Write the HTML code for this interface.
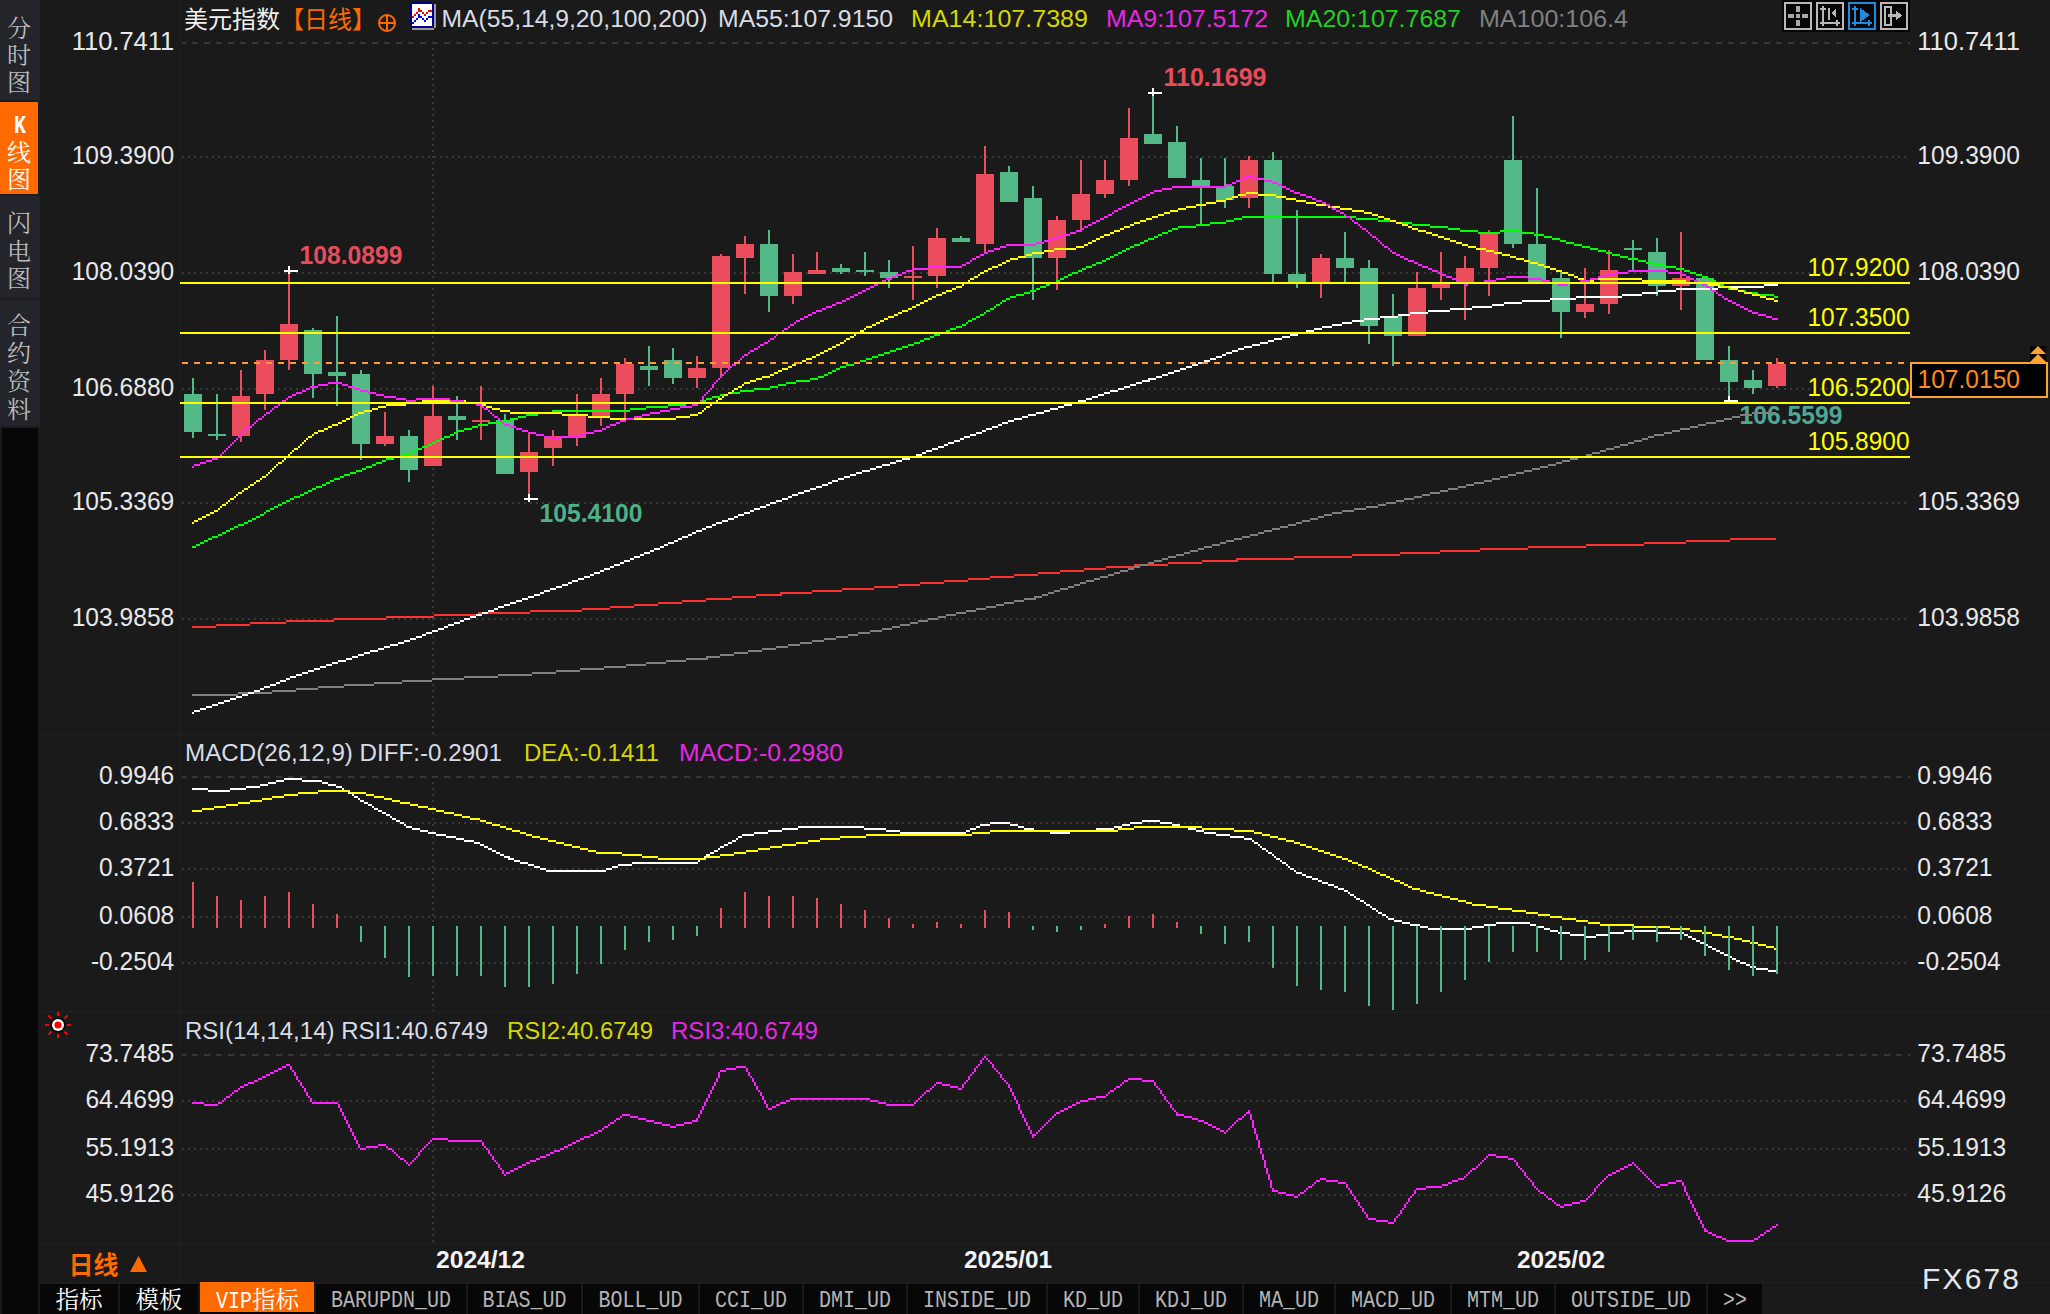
<!DOCTYPE html>
<html lang="zh"><head><meta charset="utf-8"><title>美元指数 日线</title>
<style>
html,body{margin:0;padding:0;background:#1a1a1a;overflow:hidden}
svg{display:block}
.ls{font-family:"Liberation Sans","Noto Sans CJK SC",sans-serif}
.cj{font-family:"Liberation Sans","Noto Sans CJK SC",sans-serif}
.cs{font-family:"Liberation Mono","Noto Serif CJK SC","Noto Sans CJK SC",serif}
.se{font-family:"Liberation Serif","Noto Serif CJK SC",serif}
.mo{font-family:"Liberation Mono","Noto Sans CJK SC",monospace}
</style></head><body>
<svg width="2050" height="1314" viewBox="0 0 2050 1314">
<rect x="0" y="0" width="2050" height="1314" fill="#1a1a1a"/>
<rect x="0" y="0" width="40" height="428" fill="#23252b"/>
<rect x="0" y="102" width="38" height="92" fill="#ff6a00"/>
<rect x="0" y="100" width="40" height="2" fill="#131c27"/>
<rect x="38" y="102" width="2" height="92" fill="#131c27"/>
<rect x="0" y="194" width="40" height="2" fill="#1a1d24"/>
<rect x="0" y="298" width="40" height="2" fill="#1a1d24"/>
<rect x="0" y="426" width="40" height="2" fill="#1a1d24"/>
<rect x="2" y="428" width="36" height="886" fill="#070707"/>
<rect x="38" y="734" width="2012" height="2" fill="#1e1e1e"/>
<rect x="38" y="1011" width="2012" height="2" fill="#1e1e1e"/>
<rect x="38" y="1243" width="2012" height="2" fill="#1e1e1e"/>
<rect x="179" y="0" width="2" height="1283" fill="#1d1d1d"/>
<rect x="38" y="1282" width="2012" height="2" fill="#1e1e1e"/>
<line x1="182" y1="43" x2="1910" y2="43" stroke="#363636" stroke-width="2" stroke-dasharray="6 6" stroke-dashoffset="2"/>
<line x1="182" y1="157" x2="1908" y2="157" stroke="#383838" stroke-width="2" stroke-dasharray="2 4"/>
<line x1="182" y1="273" x2="1908" y2="273" stroke="#383838" stroke-width="2" stroke-dasharray="2 4"/>
<line x1="182" y1="389" x2="1908" y2="389" stroke="#383838" stroke-width="2" stroke-dasharray="2 4"/>
<line x1="182" y1="503" x2="1908" y2="503" stroke="#383838" stroke-width="2" stroke-dasharray="2 4"/>
<line x1="182" y1="619" x2="1908" y2="619" stroke="#383838" stroke-width="2" stroke-dasharray="2 4"/>
<line x1="182" y1="777" x2="1910" y2="777" stroke="#363636" stroke-width="2" stroke-dasharray="6 6" stroke-dashoffset="2"/>
<line x1="182" y1="823" x2="1908" y2="823" stroke="#383838" stroke-width="2" stroke-dasharray="2 4"/>
<line x1="182" y1="869" x2="1908" y2="869" stroke="#383838" stroke-width="2" stroke-dasharray="2 4"/>
<line x1="182" y1="917" x2="1908" y2="917" stroke="#383838" stroke-width="2" stroke-dasharray="2 4"/>
<line x1="182" y1="963" x2="1908" y2="963" stroke="#383838" stroke-width="2" stroke-dasharray="2 4"/>
<line x1="182" y1="1055" x2="1910" y2="1055" stroke="#363636" stroke-width="2" stroke-dasharray="6 6" stroke-dashoffset="2"/>
<line x1="182" y1="1101" x2="1908" y2="1101" stroke="#383838" stroke-width="2" stroke-dasharray="2 4"/>
<line x1="182" y1="1149" x2="1908" y2="1149" stroke="#383838" stroke-width="2" stroke-dasharray="2 4"/>
<line x1="182" y1="1195" x2="1908" y2="1195" stroke="#383838" stroke-width="2" stroke-dasharray="2 4"/>
<line x1="433" y1="48" x2="433" y2="734" stroke="#383838" stroke-width="2" stroke-dasharray="2 4"/>
<line x1="433" y1="782" x2="433" y2="1011" stroke="#383838" stroke-width="2" stroke-dasharray="2 4"/>
<line x1="433" y1="1060" x2="433" y2="1243" stroke="#383838" stroke-width="2" stroke-dasharray="2 4"/>
<g shape-rendering="crispEdges">
<rect x="192" y="378" width="2" height="60" fill="#53b987"/>
<rect x="184" y="394" width="18" height="38" fill="#53b987"/>
<rect x="216" y="394" width="2" height="46" fill="#53b987"/>
<rect x="208" y="434" width="18" height="2" fill="#53b987"/>
<rect x="240" y="370" width="2" height="72" fill="#eb4d5c"/>
<rect x="232" y="396" width="18" height="40" fill="#eb4d5c"/>
<rect x="264" y="350" width="2" height="60" fill="#eb4d5c"/>
<rect x="256" y="360" width="18" height="34" fill="#eb4d5c"/>
<rect x="288" y="270" width="2" height="100" fill="#eb4d5c"/>
<rect x="280" y="324" width="18" height="36" fill="#eb4d5c"/>
<rect x="312" y="328" width="2" height="70" fill="#53b987"/>
<rect x="304" y="330" width="18" height="44" fill="#53b987"/>
<rect x="336" y="316" width="2" height="90" fill="#53b987"/>
<rect x="328" y="372" width="18" height="4" fill="#53b987"/>
<rect x="360" y="370" width="2" height="90" fill="#53b987"/>
<rect x="352" y="374" width="18" height="70" fill="#53b987"/>
<rect x="384" y="412" width="2" height="34" fill="#eb4d5c"/>
<rect x="376" y="436" width="18" height="8" fill="#eb4d5c"/>
<rect x="408" y="430" width="2" height="52" fill="#53b987"/>
<rect x="400" y="436" width="18" height="34" fill="#53b987"/>
<rect x="432" y="386" width="2" height="80" fill="#eb4d5c"/>
<rect x="424" y="416" width="18" height="50" fill="#eb4d5c"/>
<rect x="456" y="396" width="2" height="44" fill="#53b987"/>
<rect x="448" y="416" width="18" height="4" fill="#53b987"/>
<rect x="480" y="386" width="2" height="54" fill="#eb4d5c"/>
<rect x="472" y="420" width="18" height="2" fill="#eb4d5c"/>
<rect x="504" y="414" width="2" height="60" fill="#53b987"/>
<rect x="496" y="420" width="18" height="54" fill="#53b987"/>
<rect x="528" y="432" width="2" height="66" fill="#eb4d5c"/>
<rect x="520" y="452" width="18" height="20" fill="#eb4d5c"/>
<rect x="552" y="430" width="2" height="36" fill="#eb4d5c"/>
<rect x="544" y="436" width="18" height="12" fill="#eb4d5c"/>
<rect x="576" y="394" width="2" height="52" fill="#eb4d5c"/>
<rect x="568" y="414" width="18" height="24" fill="#eb4d5c"/>
<rect x="600" y="378" width="2" height="48" fill="#eb4d5c"/>
<rect x="592" y="394" width="18" height="24" fill="#eb4d5c"/>
<rect x="624" y="358" width="2" height="60" fill="#eb4d5c"/>
<rect x="616" y="364" width="18" height="30" fill="#eb4d5c"/>
<rect x="648" y="346" width="2" height="40" fill="#53b987"/>
<rect x="640" y="366" width="18" height="4" fill="#53b987"/>
<rect x="672" y="348" width="2" height="36" fill="#53b987"/>
<rect x="664" y="360" width="18" height="18" fill="#53b987"/>
<rect x="696" y="356" width="2" height="32" fill="#eb4d5c"/>
<rect x="688" y="368" width="18" height="10" fill="#eb4d5c"/>
<rect x="720" y="254" width="2" height="124" fill="#eb4d5c"/>
<rect x="712" y="256" width="18" height="112" fill="#eb4d5c"/>
<rect x="744" y="236" width="2" height="58" fill="#eb4d5c"/>
<rect x="736" y="244" width="18" height="14" fill="#eb4d5c"/>
<rect x="768" y="230" width="2" height="82" fill="#53b987"/>
<rect x="760" y="244" width="18" height="52" fill="#53b987"/>
<rect x="792" y="254" width="2" height="50" fill="#eb4d5c"/>
<rect x="784" y="272" width="18" height="24" fill="#eb4d5c"/>
<rect x="816" y="252" width="2" height="22" fill="#eb4d5c"/>
<rect x="808" y="270" width="18" height="4" fill="#eb4d5c"/>
<rect x="840" y="264" width="2" height="10" fill="#53b987"/>
<rect x="832" y="268" width="18" height="4" fill="#53b987"/>
<rect x="864" y="252" width="2" height="24" fill="#53b987"/>
<rect x="856" y="270" width="18" height="2" fill="#53b987"/>
<rect x="888" y="260" width="2" height="28" fill="#53b987"/>
<rect x="880" y="272" width="18" height="6" fill="#53b987"/>
<rect x="912" y="246" width="2" height="54" fill="#eb4d5c"/>
<rect x="904" y="276" width="18" height="2" fill="#eb4d5c"/>
<rect x="936" y="228" width="2" height="60" fill="#eb4d5c"/>
<rect x="928" y="238" width="18" height="38" fill="#eb4d5c"/>
<rect x="960" y="236" width="2" height="6" fill="#53b987"/>
<rect x="952" y="238" width="18" height="4" fill="#53b987"/>
<rect x="984" y="146" width="2" height="106" fill="#eb4d5c"/>
<rect x="976" y="174" width="18" height="70" fill="#eb4d5c"/>
<rect x="1008" y="166" width="2" height="36" fill="#53b987"/>
<rect x="1000" y="172" width="18" height="30" fill="#53b987"/>
<rect x="1032" y="186" width="2" height="114" fill="#53b987"/>
<rect x="1024" y="198" width="18" height="60" fill="#53b987"/>
<rect x="1056" y="216" width="2" height="74" fill="#eb4d5c"/>
<rect x="1048" y="220" width="18" height="38" fill="#eb4d5c"/>
<rect x="1080" y="160" width="2" height="70" fill="#eb4d5c"/>
<rect x="1072" y="194" width="18" height="26" fill="#eb4d5c"/>
<rect x="1104" y="160" width="2" height="38" fill="#eb4d5c"/>
<rect x="1096" y="180" width="18" height="14" fill="#eb4d5c"/>
<rect x="1128" y="108" width="2" height="78" fill="#eb4d5c"/>
<rect x="1120" y="138" width="18" height="42" fill="#eb4d5c"/>
<rect x="1152" y="92" width="2" height="52" fill="#53b987"/>
<rect x="1144" y="134" width="18" height="10" fill="#53b987"/>
<rect x="1176" y="126" width="2" height="52" fill="#53b987"/>
<rect x="1168" y="142" width="18" height="36" fill="#53b987"/>
<rect x="1200" y="158" width="2" height="66" fill="#53b987"/>
<rect x="1192" y="180" width="18" height="6" fill="#53b987"/>
<rect x="1224" y="158" width="2" height="50" fill="#53b987"/>
<rect x="1216" y="186" width="18" height="14" fill="#53b987"/>
<rect x="1248" y="156" width="2" height="52" fill="#eb4d5c"/>
<rect x="1240" y="160" width="18" height="38" fill="#eb4d5c"/>
<rect x="1272" y="152" width="2" height="130" fill="#53b987"/>
<rect x="1264" y="160" width="18" height="114" fill="#53b987"/>
<rect x="1296" y="210" width="2" height="78" fill="#53b987"/>
<rect x="1288" y="274" width="18" height="8" fill="#53b987"/>
<rect x="1320" y="254" width="2" height="44" fill="#eb4d5c"/>
<rect x="1312" y="258" width="18" height="24" fill="#eb4d5c"/>
<rect x="1344" y="232" width="2" height="50" fill="#53b987"/>
<rect x="1336" y="258" width="18" height="10" fill="#53b987"/>
<rect x="1368" y="260" width="2" height="84" fill="#53b987"/>
<rect x="1360" y="268" width="18" height="58" fill="#53b987"/>
<rect x="1392" y="294" width="2" height="72" fill="#53b987"/>
<rect x="1384" y="316" width="18" height="20" fill="#53b987"/>
<rect x="1416" y="272" width="2" height="64" fill="#eb4d5c"/>
<rect x="1408" y="288" width="18" height="48" fill="#eb4d5c"/>
<rect x="1440" y="252" width="2" height="48" fill="#eb4d5c"/>
<rect x="1432" y="284" width="18" height="4" fill="#eb4d5c"/>
<rect x="1464" y="256" width="2" height="64" fill="#eb4d5c"/>
<rect x="1456" y="268" width="18" height="16" fill="#eb4d5c"/>
<rect x="1488" y="230" width="2" height="66" fill="#eb4d5c"/>
<rect x="1480" y="234" width="18" height="34" fill="#eb4d5c"/>
<rect x="1512" y="116" width="2" height="132" fill="#53b987"/>
<rect x="1504" y="160" width="18" height="84" fill="#53b987"/>
<rect x="1536" y="188" width="2" height="94" fill="#53b987"/>
<rect x="1528" y="244" width="18" height="38" fill="#53b987"/>
<rect x="1560" y="272" width="2" height="66" fill="#53b987"/>
<rect x="1552" y="278" width="18" height="34" fill="#53b987"/>
<rect x="1584" y="268" width="2" height="50" fill="#eb4d5c"/>
<rect x="1576" y="304" width="18" height="8" fill="#eb4d5c"/>
<rect x="1608" y="250" width="2" height="64" fill="#eb4d5c"/>
<rect x="1600" y="270" width="18" height="34" fill="#eb4d5c"/>
<rect x="1632" y="240" width="2" height="30" fill="#53b987"/>
<rect x="1624" y="248" width="18" height="2" fill="#53b987"/>
<rect x="1656" y="238" width="2" height="58" fill="#53b987"/>
<rect x="1648" y="252" width="18" height="34" fill="#53b987"/>
<rect x="1680" y="232" width="2" height="78" fill="#eb4d5c"/>
<rect x="1672" y="278" width="18" height="8" fill="#eb4d5c"/>
<rect x="1704" y="276" width="2" height="84" fill="#53b987"/>
<rect x="1696" y="278" width="18" height="82" fill="#53b987"/>
<rect x="1728" y="346" width="2" height="54" fill="#53b987"/>
<rect x="1720" y="360" width="18" height="22" fill="#53b987"/>
<rect x="1752" y="370" width="2" height="24" fill="#53b987"/>
<rect x="1744" y="380" width="18" height="8" fill="#53b987"/>
<rect x="1776" y="358" width="2" height="30" fill="#eb4d5c"/>
<rect x="1768" y="364" width="18" height="22" fill="#eb4d5c"/>
</g>
<text class="ls" x="1739.5" y="424" font-size="25" fill="#4fa694" font-weight="bold" textLength="103" lengthAdjust="spacingAndGlyphs">106.5599</text>
<g shape-rendering="crispEdges">
<path d="M1730 538h46v2h-46zM1686 540h44v2h-44zM1644 542h42v2h-42zM1586 544h58v2h-58zM1528 546h58v2h-58zM1480 548h48v2h-48zM1440 550h40v2h-40zM1400 552h40v2h-40zM1352 554h48v2h-48zM1294 556h58v2h-58zM1236 558h58v2h-58zM1202 560h36v2h-36zM1168 562h34v2h-34zM1134 564h34v2h-34zM1106 566h28v2h-28zM1084 568h22v2h-22zM1060 570h24v2h-24zM1038 572h22v2h-22zM1014 574h24v2h-24zM990 576h24v2h-24zM968 578h22v2h-22zM944 580h24v2h-24zM920 582h24v2h-24zM898 584h22v2h-22zM874 586h24v2h-24zM842 588h32v2h-32zM812 590h30v2h-30zM780 592h32v2h-32zM756 594h26v2h-26zM732 596h24v2h-24zM706 598h26v2h-26zM682 600h24v2h-24zM658 602h24v2h-24zM634 604h24v2h-24zM610 606h24v2h-24zM582 608h28v2h-28zM530 610h52v2h-52zM478 612h52v2h-52zM434 614h44v2h-44zM386 616h48v2h-48zM334 618h52v2h-52zM286 620h48v2h-48zM250 622h36v2h-36zM216 624h34v2h-34zM192 626h24v2h-24z" fill="#ff3232"/>
<path d="M1752 412h24v2h-24zM1740 414h12v2h-12zM1732 416h8v2h-8zM1724 418h8v2h-8zM1716 420h8v2h-8zM1706 422h10v2h-10zM1698 424h8v2h-8zM1690 426h8v2h-8zM1680 428h10v2h-10zM1672 430h8v2h-8zM1664 432h8v2h-8zM1654 434h10v2h-10zM1648 436h6v2h-6zM1642 438h6v2h-6zM1634 440h8v2h-8zM1628 442h6v2h-6zM1620 444h8v2h-8zM1614 446h6v2h-6zM1606 448h8v2h-8zM1600 450h6v2h-6zM1592 452h8v2h-8zM1586 454h6v2h-6zM1578 456h8v2h-8zM1570 458h8v2h-8zM1562 460h8v2h-8zM1556 462h6v2h-6zM1548 464h8v2h-8zM1540 466h8v2h-8zM1532 468h8v2h-8zM1524 470h8v2h-8zM1516 472h8v2h-8zM1508 474h8v2h-8zM1500 476h8v2h-8zM1492 478h8v2h-8zM1484 480h8v2h-8zM1474 482h10v2h-10zM1466 484h8v2h-8zM1458 486h8v2h-8zM1448 488h10v2h-10zM1440 490h8v2h-8zM1430 492h10v2h-10zM1422 494h8v2h-8zM1414 496h8v2h-8zM1404 498h10v2h-10zM1396 500h8v2h-8zM1386 502h10v2h-10zM1378 504h8v2h-8zM1366 506h12v2h-12zM1354 508h12v2h-12zM1342 510h12v2h-12zM1332 512h10v2h-10zM1324 514h8v2h-8zM1318 516h6v2h-6zM1310 518h8v2h-8zM1302 520h8v2h-8zM1296 522h6v2h-6zM1288 524h8v2h-8zM1280 526h8v2h-8zM1272 528h8v2h-8zM1264 530h8v2h-8zM1258 532h6v2h-6zM1250 534h8v2h-8zM1242 536h8v2h-8zM1234 538h8v2h-8zM1226 540h8v2h-8zM1220 542h6v2h-6zM1212 544h8v2h-8zM1204 546h8v2h-8zM1198 548h6v2h-6zM1190 550h8v2h-8zM1184 552h6v2h-6zM1176 554h8v2h-8zM1168 556h8v2h-8zM1162 558h6v2h-6zM1154 560h8v2h-8zM1148 562h6v2h-6zM1140 564h8v2h-8zM1134 566h6v2h-6zM1128 568h6v2h-6zM1120 570h8v2h-8zM1114 572h6v2h-6zM1108 574h6v2h-6zM1100 576h8v2h-8zM1094 578h6v2h-6zM1086 580h8v2h-8zM1080 582h6v2h-6zM1074 584h6v2h-6zM1068 586h6v2h-6zM1060 588h8v2h-8zM1054 590h6v2h-6zM1048 592h6v2h-6zM1042 594h6v2h-6zM1034 596h8v2h-8zM1024 598h12v2h-12zM1014 600h10v2h-10zM1004 602h10v2h-10zM996 604h8v2h-8zM986 606h10v2h-10zM976 608h10v2h-10zM966 610h10v2h-10zM956 612h10v2h-10zM946 614h10v2h-10zM938 616h8v2h-8zM928 618h10v2h-10zM918 620h10v2h-10zM910 622h8v2h-8zM900 624h10v2h-10zM892 626h8v2h-8zM882 628h10v2h-10zM870 630h12v2h-12zM858 632h12v2h-12zM848 634h10v2h-10zM836 636h12v2h-12zM824 638h12v2h-12zM812 640h12v2h-12zM800 642h12v2h-12zM788 644h12v2h-12zM776 646h12v2h-12zM762 648h14v2h-14zM748 650h14v2h-14zM734 652h14v2h-14zM720 654h14v2h-14zM706 656h14v2h-14zM686 658h22v2h-22zM666 660h20v2h-20zM646 662h20v2h-20zM626 664h20v2h-20zM604 666h22v2h-22zM580 668h24v2h-24zM556 670h24v2h-24zM532 672h24v2h-24zM498 674h34v2h-34zM464 676h34v2h-34zM432 678h32v2h-32zM402 680h30v2h-30zM374 682h28v2h-28zM344 684h30v2h-30zM318 686h26v2h-26zM296 688h22v2h-22zM272 690h24v2h-24zM238 692h34v2h-34zM192 694h46v2h-46z" fill="#808080"/>
<path d="M1764 284h14v2h-14zM1718 286h46v2h-46zM1676 288h42v2h-42zM1658 290h18v2h-18zM1642 292h16v2h-16zM1622 294h20v2h-20zM1576 296h46v2h-46zM1550 298h26v2h-26zM1522 300h28v2h-28zM1504 302h18v2h-18zM1492 304h12v2h-12zM1472 306h20v2h-20zM1450 308h22v2h-22zM1428 310h22v2h-22zM1410 312h18v2h-18zM1398 314h12v2h-12zM1380 316h18v2h-18zM1364 318h16v2h-16zM1352 320h12v2h-12zM1342 322h10v2h-10zM1332 324h10v2h-10zM1322 326h10v2h-10zM1314 328h8v2h-8zM1306 330h8v2h-8zM1298 332h8v2h-8zM1290 334h8v2h-8zM1282 336h8v2h-8zM1274 338h8v2h-8zM1268 340h6v2h-6zM1260 342h8v2h-8zM1252 344h8v2h-8zM1244 346h8v2h-8zM1238 348h6v2h-6zM1232 350h6v2h-6zM1226 352h6v2h-6zM1222 354h4v2h-4zM1216 356h6v2h-6zM1210 358h6v2h-6zM1204 360h6v2h-6zM1198 362h6v2h-6zM1192 364h6v2h-6zM1186 366h6v2h-6zM1180 368h6v2h-6zM1174 370h6v2h-6zM1168 372h6v2h-6zM1162 374h6v2h-6zM1156 376h6v2h-6zM1148 378h8v2h-8zM1142 380h8v2h-8zM1136 382h6v2h-6zM1130 384h6v2h-6zM1124 386h6v2h-6zM1118 388h6v2h-6zM1110 390h8v2h-8zM1104 392h6v2h-6zM1098 394h6v2h-6zM1092 396h6v2h-6zM1086 398h6v2h-6zM1078 400h8v2h-8zM1072 402h6v2h-6zM1064 404h8v2h-8zM1058 406h6v2h-6zM1050 408h8v2h-8zM1044 410h6v2h-6zM1036 412h8v2h-8zM1028 414h8v2h-8zM1022 416h6v2h-6zM1014 418h8v2h-8zM1008 420h6v2h-6zM1002 422h6v2h-6zM998 424h4v2h-4zM992 426h6v2h-6zM986 428h6v2h-6zM982 430h4v2h-4zM976 432h6v2h-6zM970 434h6v2h-6zM964 436h6v2h-6zM960 438h4v2h-4zM954 440h6v2h-6zM948 442h6v2h-6zM944 444h4v2h-4zM938 446h6v2h-6zM932 448h6v2h-6zM926 450h6v2h-6zM922 452h4v2h-4zM916 454h6v2h-6zM910 456h6v2h-6zM902 458h8v2h-8zM896 460h6v2h-6zM890 462h6v2h-6zM882 464h8v2h-8zM876 466h6v2h-6zM870 468h6v2h-6zM862 470h8v2h-8zM856 472h6v2h-6zM850 474h6v2h-6zM844 476h6v2h-6zM838 478h6v2h-6zM832 480h6v2h-6zM828 482h4v2h-4zM822 484h6v2h-6zM816 486h6v2h-6zM810 488h6v2h-6zM804 490h6v2h-6zM798 492h6v2h-6zM792 494h6v2h-6zM788 496h4v2h-4zM782 498h6v2h-6zM776 500h6v2h-6zM770 502h6v2h-6zM766 504h4v2h-4zM760 506h6v2h-6zM754 508h6v2h-6zM750 510h4v2h-4zM744 512h6v2h-6zM738 514h6v2h-6zM734 516h4v2h-4zM728 518h6v2h-6zM722 520h6v2h-6zM716 522h6v2h-6zM712 524h4v2h-4zM706 526h6v2h-6zM702 528h4v2h-4zM696 530h6v2h-6zM692 532h4v2h-4zM688 534h4v2h-4zM682 536h6v2h-6zM678 538h4v2h-4zM674 540h4v2h-4zM668 542h6v2h-6zM664 544h4v2h-4zM660 546h4v2h-4zM654 548h6v2h-6zM650 550h4v2h-4zM644 552h6v2h-6zM640 554h4v2h-4zM634 556h6v2h-6zM630 558h4v2h-4zM624 560h6v2h-6zM620 562h4v2h-4zM614 564h6v2h-6zM610 566h4v2h-4zM604 568h6v2h-6zM600 570h4v2h-4zM594 572h6v2h-6zM590 574h4v2h-4zM584 576h6v2h-6zM578 578h6v2h-6zM572 580h6v2h-6zM568 582h4v2h-4zM562 584h6v2h-6zM556 586h6v2h-6zM550 588h6v2h-6zM544 590h6v2h-6zM540 592h4v2h-4zM534 594h6v2h-6zM528 596h6v2h-6zM522 598h6v2h-6zM516 600h6v2h-6zM510 602h6v2h-6zM504 604h6v2h-6zM498 606h6v2h-6zM494 608h4v2h-4zM488 610h6v2h-6zM482 612h6v2h-6zM476 614h6v2h-6zM470 616h6v2h-6zM464 618h6v2h-6zM460 620h4v2h-4zM454 622h6v2h-6zM448 624h6v2h-6zM444 626h4v2h-4zM438 628h6v2h-6zM432 630h6v2h-6zM426 632h6v2h-6zM422 634h4v2h-4zM416 636h6v2h-6zM410 638h6v2h-6zM404 640h6v2h-6zM398 642h6v2h-6zM390 644h8v2h-8zM384 646h6v2h-6zM378 648h6v2h-6zM370 650h8v2h-8zM364 652h6v2h-6zM358 654h6v2h-6zM352 656h6v2h-6zM346 658h6v2h-6zM338 660h8v2h-8zM332 662h6v2h-6zM326 664h6v2h-6zM320 666h6v2h-6zM314 668h6v2h-6zM308 670h6v2h-6zM302 672h6v2h-6zM296 674h6v2h-6zM290 676h6v2h-6zM286 678h4v2h-4zM280 680h6v2h-6zM276 682h4v2h-4zM270 684h6v2h-6zM264 686h6v2h-6zM260 688h4v2h-4zM254 690h6v2h-6zM248 692h6v2h-6zM242 694h6v2h-6zM236 696h6v2h-6zM230 698h6v2h-6zM224 700h6v2h-6zM218 702h6v2h-6zM212 704h6v2h-6zM206 706h6v2h-6zM200 708h6v2h-6zM194 710h6v2h-6zM192 712h2v2h-2z" fill="#ffffff"/>
<path d="M1242 216h114v2h-114zM1234 218h8v2h-8zM1356 218h22v2h-22zM1226 220h8v2h-8zM1378 220h18v2h-18zM1210 222h16v2h-16zM1396 222h16v2h-16zM1196 224h14v2h-14zM1412 224h18v2h-18zM1178 226h18v2h-18zM1430 226h18v2h-18zM1172 228h6v2h-6zM1448 228h12v2h-12zM1168 230h4v2h-4zM1460 230h18v2h-18zM1500 230h22v2h-22zM1162 232h6v2h-6zM1478 232h22v2h-22zM1522 232h12v2h-12zM1158 234h4v2h-4zM1534 234h10v2h-10zM1154 236h4v2h-4zM1544 236h8v2h-8zM1148 238h6v2h-6zM1552 238h8v2h-8zM1144 240h4v2h-4zM1560 240h6v2h-6zM1140 242h4v2h-4zM1566 242h8v2h-8zM1134 244h6v2h-6zM1574 244h8v2h-8zM1130 246h4v2h-4zM1582 246h8v2h-8zM1126 248h4v2h-4zM1590 248h8v2h-8zM1122 250h4v2h-4zM1598 250h8v2h-8zM1118 252h4v2h-4zM1606 252h6v2h-6zM1114 254h4v2h-4zM1612 254h8v2h-8zM1110 256h4v2h-4zM1620 256h8v2h-8zM1106 258h4v2h-4zM1628 258h10v2h-10zM1102 260h4v2h-4zM1638 260h8v2h-8zM1096 262h6v2h-6zM1646 262h8v2h-8zM1092 264h4v2h-4zM1654 264h10v2h-10zM1086 266h6v2h-6zM1664 266h12v2h-12zM1082 268h4v2h-4zM1676 268h8v2h-8zM1078 270h4v2h-4zM1684 270h6v2h-6zM1072 272h6v2h-6zM1690 272h6v2h-6zM1068 274h4v2h-4zM1696 274h6v2h-6zM1064 276h4v2h-4zM1702 276h6v2h-6zM1060 278h4v2h-4zM1708 278h4v2h-4zM1056 280h4v2h-4zM1712 280h4v2h-4zM1050 282h6v2h-6zM1716 282h4v2h-4zM1046 284h4v2h-4zM1720 284h4v2h-4zM1040 286h6v2h-6zM1724 286h4v2h-4zM1036 288h4v2h-4zM1728 288h10v2h-10zM1030 290h6v2h-6zM1738 290h8v2h-8zM1024 292h6v2h-6zM1746 292h12v2h-12zM1016 294h8v2h-8zM1758 294h16v2h-16zM1010 296h6v2h-6zM1774 296h4v2h-4zM1006 298h4v2h-4zM1002 300h4v2h-4zM1000 302h2v2h-2zM996 304h4v2h-4zM994 306h2v2h-2zM990 308h4v2h-4zM986 310h4v2h-4zM984 312h2v2h-2zM980 314h4v2h-4zM976 316h4v2h-4zM972 318h4v2h-4zM968 320h4v2h-4zM966 322h2v2h-2zM962 324h4v2h-4zM956 326h6v2h-6zM950 328h6v2h-6zM946 330h4v2h-4zM940 332h6v2h-6zM934 334h6v2h-6zM930 336h4v2h-4zM924 338h6v2h-6zM920 340h4v2h-4zM914 342h6v2h-6zM908 344h6v2h-6zM902 346h6v2h-6zM896 348h6v2h-6zM890 350h6v2h-6zM884 352h6v2h-6zM878 354h6v2h-6zM872 356h6v2h-6zM866 358h6v2h-6zM860 360h6v2h-6zM854 362h6v2h-6zM846 364h8v2h-8zM840 366h6v2h-6zM836 368h4v2h-4zM832 370h4v2h-4zM828 372h4v2h-4zM824 374h4v2h-4zM818 376h6v2h-6zM810 378h8v2h-8zM796 380h14v2h-14zM786 382h10v2h-10zM778 384h8v2h-8zM770 386h8v2h-8zM754 388h16v2h-16zM740 390h14v2h-14zM728 392h12v2h-12zM720 394h8v2h-8zM712 396h8v2h-8zM706 398h6v2h-6zM700 400h6v2h-6zM686 402h14v2h-14zM668 404h18v2h-18zM646 406h22v2h-22zM630 408h16v2h-16zM552 410h78v2h-78zM538 412h14v2h-14zM526 414h12v2h-12zM518 416h8v2h-8zM510 418h8v2h-8zM502 420h8v2h-8zM488 422h14v2h-14zM478 424h10v2h-10zM472 426h6v2h-6zM464 428h8v2h-8zM458 430h6v2h-6zM454 432h4v2h-4zM450 434h4v2h-4zM444 436h6v2h-6zM440 438h4v2h-4zM436 440h4v2h-4zM432 442h4v2h-4zM428 444h4v2h-4zM422 446h6v2h-6zM418 448h4v2h-4zM414 450h4v2h-4zM410 452h4v2h-4zM402 454h8v2h-8zM394 456h8v2h-8zM386 458h8v2h-8zM382 460h4v2h-4zM376 462h6v2h-6zM372 464h4v2h-4zM366 466h6v2h-6zM362 468h4v2h-4zM356 470h6v2h-6zM350 472h6v2h-6zM344 474h6v2h-6zM340 476h4v2h-4zM334 478h6v2h-6zM330 480h4v2h-4zM326 482h4v2h-4zM322 484h4v2h-4zM316 486h6v2h-6zM312 488h4v2h-4zM308 490h4v2h-4zM304 492h4v2h-4zM300 494h4v2h-4zM294 496h6v2h-6zM290 498h4v2h-4zM286 500h4v2h-4zM282 502h4v2h-4zM278 504h4v2h-4zM274 506h4v2h-4zM270 508h4v2h-4zM266 510h4v2h-4zM264 512h2v2h-2zM260 514h4v2h-4zM256 516h4v2h-4zM252 518h4v2h-4zM248 520h4v2h-4zM244 522h4v2h-4zM238 524h6v2h-6zM234 526h4v2h-4zM230 528h4v2h-4zM226 530h4v2h-4zM222 532h4v2h-4zM218 534h4v2h-4zM212 536h6v2h-6zM208 538h4v2h-4zM204 540h4v2h-4zM200 542h4v2h-4zM196 544h4v2h-4zM192 546h4v2h-4z" fill="#00ff00"/>
<path d="M1246 192h12v2h-12zM1238 194h8v2h-8zM1258 194h18v2h-18zM1232 196h6v2h-6zM1276 196h10v2h-10zM1226 198h6v2h-6zM1286 198h10v2h-10zM1216 200h10v2h-10zM1296 200h10v2h-10zM1206 202h10v2h-10zM1306 202h10v2h-10zM1196 204h10v2h-10zM1316 204h12v2h-12zM1186 206h10v2h-10zM1328 206h12v2h-12zM1178 208h8v2h-8zM1340 208h12v2h-12zM1170 210h8v2h-8zM1352 210h12v2h-12zM1164 212h6v2h-6zM1364 212h8v2h-8zM1158 214h6v2h-6zM1372 214h6v2h-6zM1152 216h6v2h-6zM1378 216h6v2h-6zM1146 218h6v2h-6zM1384 218h6v2h-6zM1140 220h6v2h-6zM1390 220h6v2h-6zM1134 222h6v2h-6zM1396 222h6v2h-6zM1130 224h4v2h-4zM1402 224h6v2h-6zM1124 226h6v2h-6zM1408 226h4v2h-4zM1120 228h4v2h-4zM1412 228h6v2h-6zM1114 230h6v2h-6zM1418 230h8v2h-8zM1110 232h4v2h-4zM1426 232h6v2h-6zM1104 234h6v2h-6zM1432 234h6v2h-6zM1100 236h4v2h-4zM1438 236h6v2h-6zM1096 238h4v2h-4zM1444 238h6v2h-6zM1092 240h4v2h-4zM1450 240h6v2h-6zM1088 242h4v2h-4zM1456 242h6v2h-6zM1084 244h4v2h-4zM1462 244h6v2h-6zM1076 246h8v2h-8zM1468 246h8v2h-8zM1054 248h22v2h-22zM1476 248h10v2h-10zM1044 250h10v2h-10zM1486 250h8v2h-8zM1032 252h12v2h-12zM1494 252h8v2h-8zM1026 254h6v2h-6zM1502 254h8v2h-8zM1018 256h8v2h-8zM1510 256h6v2h-6zM1010 258h8v2h-8zM1516 258h8v2h-8zM1006 260h4v2h-4zM1524 260h6v2h-6zM1002 262h4v2h-4zM1530 262h8v2h-8zM998 264h4v2h-4zM1538 264h6v2h-6zM992 266h6v2h-6zM1544 266h6v2h-6zM988 268h4v2h-4zM1550 268h6v2h-6zM984 270h4v2h-4zM1556 270h6v2h-6zM980 272h4v2h-4zM1562 272h6v2h-6zM978 274h2v2h-2zM1568 274h6v2h-6zM974 276h4v2h-4zM1574 276h4v2h-4zM970 278h4v2h-4zM1578 278h6v2h-6zM1594 278h48v2h-48zM968 280h2v2h-2zM1584 280h10v2h-10zM1642 280h44v2h-44zM964 282h4v2h-4zM1686 282h22v2h-22zM962 284h2v2h-2zM1708 284h12v2h-12zM956 286h6v2h-6zM1720 286h10v2h-10zM952 288h4v2h-4zM1730 288h8v2h-8zM946 290h6v2h-6zM1738 290h6v2h-6zM942 292h4v2h-4zM1744 292h8v2h-8zM936 294h6v2h-6zM1752 294h8v2h-8zM932 296h4v2h-4zM1760 296h6v2h-6zM928 298h4v2h-4zM1766 298h8v2h-8zM924 300h4v2h-4zM1774 300h4v2h-4zM920 302h4v2h-4zM916 304h4v2h-4zM912 306h4v2h-4zM908 308h4v2h-4zM902 310h6v2h-6zM898 312h4v2h-4zM894 314h4v2h-4zM888 316h6v2h-6zM884 318h4v2h-4zM880 320h4v2h-4zM876 322h4v2h-4zM872 324h4v2h-4zM866 326h6v2h-6zM864 328h2v2h-2zM860 330h4v2h-4zM856 332h4v2h-4zM854 334h2v2h-2zM850 336h4v2h-4zM846 338h4v2h-4zM844 340h2v2h-2zM840 342h4v2h-4zM836 344h4v2h-4zM832 346h4v2h-4zM828 348h4v2h-4zM824 350h4v2h-4zM820 352h4v2h-4zM816 354h4v2h-4zM812 356h4v2h-4zM806 358h6v2h-6zM802 360h4v2h-4zM796 362h6v2h-6zM792 364h4v2h-4zM788 366h4v2h-4zM782 368h6v2h-6zM778 370h4v2h-4zM774 372h4v2h-4zM770 374h4v2h-4zM762 376h8v2h-8zM756 378h6v2h-6zM750 380h6v2h-6zM744 382h6v2h-6zM742 384h2v2h-2zM738 386h4v2h-4zM734 388h4v2h-4zM732 390h2v2h-2zM728 392h4v2h-4zM724 394h4v2h-4zM722 396h2v2h-2zM718 398h4v2h-4zM422 400h44v2h-44zM716 400h2v2h-2zM406 402h16v2h-16zM466 402h12v2h-12zM712 402h4v2h-4zM386 404h20v2h-20zM478 404h8v2h-8zM710 404h2v2h-2zM378 406h8v2h-8zM486 406h6v2h-6zM706 406h4v2h-4zM372 408h6v2h-6zM492 408h8v2h-8zM704 408h2v2h-2zM364 410h8v2h-8zM500 410h10v2h-10zM702 410h2v2h-2zM358 412h6v2h-6zM510 412h52v2h-52zM698 412h4v2h-4zM354 414h4v2h-4zM562 414h26v2h-26zM690 414h8v2h-8zM350 416h4v2h-4zM588 416h22v2h-22zM676 416h14v2h-14zM346 418h4v2h-4zM610 418h66v2h-66zM342 420h4v2h-4zM338 422h4v2h-4zM332 424h6v2h-6zM328 426h4v2h-4zM324 428h4v2h-4zM318 430h6v2h-6zM314 432h4v2h-4zM312 434h2v2h-2zM308 436h4v2h-4zM306 438h2v2h-2zM304 440h2v2h-2zM302 442h2v2h-2zM300 444h2v2h-2zM298 446h2v2h-2zM294 448h4v2h-4zM292 450h2v2h-2zM290 452h2v2h-2zM288 454h2v2h-2zM286 456h2v2h-2zM284 458h2v2h-2zM282 460h2v2h-2zM278 462h4v2h-4zM276 464h2v2h-2zM274 466h2v2h-2zM272 468h2v2h-2zM270 470h2v2h-2zM268 472h2v2h-2zM266 474h2v2h-2zM262 476h4v2h-4zM260 478h2v2h-2zM256 480h4v2h-4zM254 482h2v2h-2zM250 484h4v2h-4zM248 486h2v2h-2zM244 488h4v2h-4zM242 490h2v2h-2zM238 492h4v2h-4zM236 494h2v2h-2zM234 496h2v2h-2zM230 498h4v2h-4zM228 500h2v2h-2zM226 502h2v2h-2zM222 504h4v2h-4zM220 506h2v2h-2zM218 508h2v2h-2zM214 510h4v2h-4zM210 512h4v2h-4zM206 514h4v2h-4zM202 516h4v2h-4zM198 518h4v2h-4zM194 520h4v2h-4zM192 522h2v2h-2z" fill="#ffff00"/>
<path d="M1246 176h8v2h-8zM1242 178h4v2h-4zM1254 178h10v2h-10zM1236 180h6v2h-6zM1264 180h8v2h-8zM1232 182h4v2h-4zM1272 182h6v2h-6zM1226 184h6v2h-6zM1278 184h4v2h-4zM1172 186h54v2h-54zM1282 186h4v2h-4zM1162 188h10v2h-10zM1286 188h4v2h-4zM1154 190h8v2h-8zM1290 190h4v2h-4zM1150 192h4v2h-4zM1294 192h6v2h-6zM1146 194h4v2h-4zM1300 194h6v2h-6zM1142 196h4v2h-4zM1306 196h6v2h-6zM1138 198h4v2h-4zM1312 198h4v2h-4zM1134 200h4v2h-4zM1316 200h6v2h-6zM1130 202h4v2h-4zM1322 202h4v2h-4zM1126 204h4v2h-4zM1326 204h4v2h-4zM1122 206h4v2h-4zM1330 206h2v2h-2zM1118 208h4v2h-4zM1332 208h4v2h-4zM1114 210h4v2h-4zM1336 210h4v2h-4zM1112 212h2v2h-2zM1340 212h4v2h-4zM1108 214h4v2h-4zM1344 214h2v2h-2zM1104 216h4v2h-4zM1346 216h4v2h-4zM1100 218h4v2h-4zM1350 218h2v2h-2zM1096 220h4v2h-4zM1352 220h2v2h-2zM1092 222h4v2h-4zM1354 222h4v2h-4zM1088 224h4v2h-4zM1358 224h2v2h-2zM1084 226h4v2h-4zM1360 226h2v2h-2zM1082 228h2v2h-2zM1362 228h4v2h-4zM1076 230h6v2h-6zM1366 230h2v2h-2zM1070 232h6v2h-6zM1368 232h2v2h-2zM1064 234h6v2h-6zM1370 234h2v2h-2zM1058 236h6v2h-6zM1372 236h4v2h-4zM1052 238h6v2h-6zM1376 238h2v2h-2zM1044 240h8v2h-8zM1378 240h2v2h-2zM1036 242h8v2h-8zM1380 242h2v2h-2zM1006 244h30v2h-30zM1382 244h2v2h-2zM1000 246h6v2h-6zM1384 246h4v2h-4zM994 248h6v2h-6zM1388 248h2v2h-2zM988 250h6v2h-6zM1390 250h2v2h-2zM984 252h4v2h-4zM1392 252h4v2h-4zM980 254h4v2h-4zM1396 254h4v2h-4zM976 256h4v2h-4zM1400 256h4v2h-4zM972 258h4v2h-4zM1404 258h4v2h-4zM970 260h2v2h-2zM1408 260h6v2h-6zM966 262h4v2h-4zM1414 262h4v2h-4zM962 264h4v2h-4zM1418 264h4v2h-4zM928 266h34v2h-34zM1422 266h6v2h-6zM912 268h16v2h-16zM1428 268h4v2h-4zM906 270h6v2h-6zM1432 270h6v2h-6zM1628 270h40v2h-40zM902 272h4v2h-4zM1438 272h4v2h-4zM1616 272h12v2h-12zM1668 272h14v2h-14zM896 274h6v2h-6zM1442 274h4v2h-4zM1606 274h10v2h-10zM1682 274h4v2h-4zM892 276h4v2h-4zM1446 276h6v2h-6zM1506 276h22v2h-22zM1598 276h8v2h-8zM1686 276h4v2h-4zM886 278h6v2h-6zM1452 278h4v2h-4zM1496 278h10v2h-10zM1528 278h14v2h-14zM1590 278h8v2h-8zM1690 278h4v2h-4zM882 280h4v2h-4zM1456 280h4v2h-4zM1484 280h12v2h-12zM1542 280h8v2h-8zM1580 280h10v2h-10zM1694 280h4v2h-4zM878 282h4v2h-4zM1460 282h4v2h-4zM1468 282h16v2h-16zM1550 282h8v2h-8zM1568 282h12v2h-12zM1698 282h4v2h-4zM874 284h4v2h-4zM1464 284h4v2h-4zM1558 284h10v2h-10zM1702 284h4v2h-4zM870 286h4v2h-4zM1706 286h4v2h-4zM866 288h4v2h-4zM1710 288h2v2h-2zM862 290h4v2h-4zM1712 290h4v2h-4zM858 292h4v2h-4zM1716 292h2v2h-2zM854 294h4v2h-4zM1718 294h4v2h-4zM850 296h4v2h-4zM1722 296h2v2h-2zM846 298h4v2h-4zM1724 298h4v2h-4zM842 300h4v2h-4zM1728 300h4v2h-4zM836 302h6v2h-6zM1732 302h4v2h-4zM832 304h4v2h-4zM1736 304h4v2h-4zM826 306h6v2h-6zM1740 306h4v2h-4zM822 308h4v2h-4zM1744 308h4v2h-4zM816 310h6v2h-6zM1748 310h4v2h-4zM812 312h4v2h-4zM1752 312h6v2h-6zM808 314h4v2h-4zM1758 314h8v2h-8zM804 316h4v2h-4zM1766 316h6v2h-6zM800 318h4v2h-4zM1772 318h6v2h-6zM796 320h4v2h-4zM794 322h2v2h-2zM790 324h4v2h-4zM788 326h2v2h-2zM784 328h4v2h-4zM782 330h2v2h-2zM778 332h4v2h-4zM776 334h2v2h-2zM774 336h2v2h-2zM770 338h4v2h-4zM768 340h2v2h-2zM764 342h4v2h-4zM760 344h4v2h-4zM758 346h2v2h-2zM754 348h4v2h-4zM750 350h4v2h-4zM748 352h2v2h-2zM744 354h4v2h-4zM742 356h2v2h-2zM740 358h2v2h-2zM738 360h2v2h-2zM736 362h2v2h-2zM732 364h4v2h-4zM730 366h2v2h-2zM728 368h2v2h-2zM726 370h2v2h-2zM724 372h2v2h-2zM722 374h2v2h-2zM720 376h2v2h-2zM718 378h2v2h-2zM716 380h2v2h-2zM328 382h14v2h-14zM714 382h2v2h-2zM318 384h10v2h-10zM342 384h6v2h-6zM712 384h2v2h-2zM310 386h8v2h-8zM348 386h6v2h-6zM712 386h2v2h-2zM306 388h4v2h-4zM354 388h6v2h-6zM710 388h2v2h-2zM302 390h4v2h-4zM360 390h8v2h-8zM708 390h2v2h-2zM296 392h6v2h-6zM368 392h8v2h-8zM706 392h2v2h-2zM292 394h4v2h-4zM376 394h8v2h-8zM704 394h2v2h-2zM288 396h4v2h-4zM384 396h12v2h-12zM702 396h2v2h-2zM286 398h2v2h-2zM396 398h10v2h-10zM416 398h34v2h-34zM702 398h2v2h-2zM282 400h4v2h-4zM406 400h10v2h-10zM450 400h14v2h-14zM700 400h2v2h-2zM280 402h2v2h-2zM464 402h12v2h-12zM698 402h2v2h-2zM278 404h2v2h-2zM476 404h6v2h-6zM692 404h6v2h-6zM274 406h4v2h-4zM482 406h2v2h-2zM680 406h12v2h-12zM272 408h2v2h-2zM484 408h4v2h-4zM670 408h10v2h-10zM270 410h2v2h-2zM488 410h2v2h-2zM660 410h10v2h-10zM266 412h4v2h-4zM490 412h2v2h-2zM650 412h10v2h-10zM264 414h2v2h-2zM492 414h2v2h-2zM642 414h8v2h-8zM262 416h2v2h-2zM494 416h4v2h-4zM634 416h8v2h-8zM258 418h4v2h-4zM498 418h2v2h-2zM626 418h8v2h-8zM256 420h2v2h-2zM500 420h2v2h-2zM620 420h6v2h-6zM254 422h2v2h-2zM502 422h2v2h-2zM616 422h4v2h-4zM252 424h2v2h-2zM504 424h6v2h-6zM610 424h6v2h-6zM248 426h4v2h-4zM510 426h6v2h-6zM606 426h4v2h-4zM246 428h2v2h-2zM516 428h6v2h-6zM602 428h4v2h-4zM244 430h2v2h-2zM522 430h6v2h-6zM594 430h8v2h-8zM242 432h2v2h-2zM528 432h8v2h-8zM586 432h8v2h-8zM240 434h2v2h-2zM536 434h8v2h-8zM580 434h6v2h-6zM238 436h2v2h-2zM544 436h8v2h-8zM560 436h20v2h-20zM236 438h2v2h-2zM552 438h8v2h-8zM234 440h2v2h-2zM232 442h2v2h-2zM230 444h2v2h-2zM228 446h2v2h-2zM226 448h2v2h-2zM224 450h2v2h-2zM222 452h2v2h-2zM220 454h2v2h-2zM218 456h2v2h-2zM212 458h6v2h-6zM206 460h6v2h-6zM200 462h6v2h-6zM194 464h6v2h-6zM192 466h2v2h-2z" fill="#ff20ff"/>
<rect x="284" y="270" width="14" height="2" fill="#ffffff"/>
<rect x="288" y="266" width="2" height="8" fill="#ffffff"/>
<rect x="524" y="498" width="14" height="2" fill="#ffffff"/>
<rect x="528" y="494" width="2" height="8" fill="#ffffff"/>
<rect x="1148" y="92" width="14" height="2" fill="#ffffff"/>
<rect x="1152" y="88" width="2" height="8" fill="#ffffff"/>
<rect x="1724" y="400" width="14" height="2" fill="#ffffff"/>
<rect x="1728" y="396" width="2" height="8" fill="#ffffff"/>
<rect x="180" y="282" width="1730" height="2" fill="#ffff00"/>
<rect x="180" y="332" width="1730" height="2" fill="#ffff00"/>
<rect x="180" y="402" width="1730" height="2" fill="#ffff00"/>
<rect x="180" y="456" width="1730" height="2" fill="#ffff00"/>
<line x1="182" y1="363" x2="1910" y2="363" stroke="#ff9a2e" stroke-width="2" stroke-dasharray="6 6"/>
<path d="M284 778h18v2h-18zM276 780h8v2h-8zM302 780h20v2h-20zM268 782h8v2h-8zM322 782h6v2h-6zM260 784h8v2h-8zM328 784h8v2h-8zM246 786h14v2h-14zM336 786h6v2h-6zM192 788h16v2h-16zM230 788h16v2h-16zM342 788h2v2h-2zM208 790h22v2h-22zM344 790h4v2h-4zM348 792h4v2h-4zM352 794h2v2h-2zM354 796h4v2h-4zM358 798h2v2h-2zM360 800h4v2h-4zM364 802h4v2h-4zM368 804h4v2h-4zM372 806h2v2h-2zM374 808h4v2h-4zM378 810h4v2h-4zM382 812h4v2h-4zM386 814h4v2h-4zM390 816h2v2h-2zM392 818h4v2h-4zM396 820h4v2h-4zM1142 820h18v2h-18zM400 822h4v2h-4zM990 822h20v2h-20zM1130 822h12v2h-12zM1160 822h12v2h-12zM404 824h2v2h-2zM980 824h10v2h-10zM1010 824h8v2h-8zM1122 824h8v2h-8zM1172 824h8v2h-8zM406 826h6v2h-6zM798 826h66v2h-66zM976 826h4v2h-4zM1018 826h6v2h-6zM1114 826h8v2h-8zM1180 826h8v2h-8zM412 828h8v2h-8zM782 828h16v2h-16zM864 828h22v2h-22zM970 828h6v2h-6zM1024 828h10v2h-10zM1096 828h18v2h-18zM1188 828h8v2h-8zM420 830h8v2h-8zM768 830h14v2h-14zM886 830h14v2h-14zM966 830h4v2h-4zM1034 830h16v2h-16zM1070 830h26v2h-26zM1196 830h8v2h-8zM428 832h8v2h-8zM754 832h14v2h-14zM900 832h66v2h-66zM1050 832h20v2h-20zM1204 832h12v2h-12zM436 834h10v2h-10zM742 834h12v2h-12zM1216 834h14v2h-14zM446 836h10v2h-10zM738 836h4v2h-4zM1230 836h14v2h-14zM456 838h8v2h-8zM736 838h2v2h-2zM1244 838h8v2h-8zM464 840h10v2h-10zM732 840h4v2h-4zM1252 840h2v2h-2zM474 842h6v2h-6zM728 842h4v2h-4zM1254 842h4v2h-4zM480 844h4v2h-4zM724 844h4v2h-4zM1258 844h2v2h-2zM484 846h4v2h-4zM720 846h4v2h-4zM1260 846h2v2h-2zM488 848h4v2h-4zM718 848h2v2h-2zM1262 848h4v2h-4zM492 850h4v2h-4zM714 850h4v2h-4zM1266 850h2v2h-2zM496 852h4v2h-4zM710 852h4v2h-4zM1268 852h4v2h-4zM500 854h4v2h-4zM706 854h4v2h-4zM1272 854h2v2h-2zM504 856h6v2h-6zM704 856h2v2h-2zM1274 856h2v2h-2zM508 858h6v2h-6zM700 858h4v2h-4zM1276 858h4v2h-4zM514 860h6v2h-6zM698 860h2v2h-2zM1280 860h2v2h-2zM520 862h8v2h-8zM632 862h66v2h-66zM1282 862h4v2h-4zM528 864h6v2h-6zM618 864h14v2h-14zM1286 864h2v2h-2zM534 866h6v2h-6zM612 866h6v2h-6zM1288 866h2v2h-2zM540 868h6v2h-6zM606 868h6v2h-6zM1290 868h4v2h-4zM546 870h60v2h-60zM1294 870h2v2h-2zM1296 872h6v2h-6zM1302 874h4v2h-4zM1306 876h6v2h-6zM1312 878h6v2h-6zM1318 880h4v2h-4zM1322 882h6v2h-6zM1328 884h6v2h-6zM1334 886h4v2h-4zM1338 888h6v2h-6zM1344 890h4v2h-4zM1348 892h2v2h-2zM1350 894h4v2h-4zM1354 896h2v2h-2zM1356 898h4v2h-4zM1360 900h4v2h-4zM1364 902h2v2h-2zM1366 904h4v2h-4zM1370 906h2v2h-2zM1372 908h4v2h-4zM1376 910h2v2h-2zM1378 912h4v2h-4zM1382 914h4v2h-4zM1386 916h2v2h-2zM1388 918h6v2h-6zM1394 920h8v2h-8zM1402 922h8v2h-8zM1496 922h34v2h-34zM1410 924h10v2h-10zM1484 924h12v2h-12zM1530 924h6v2h-6zM1420 926h8v2h-8zM1472 926h12v2h-12zM1536 926h8v2h-8zM1428 928h44v2h-44zM1544 928h6v2h-6zM1550 930h8v2h-8zM1624 930h32v2h-32zM1558 932h12v2h-12zM1610 932h14v2h-14zM1656 932h28v2h-28zM1570 934h14v2h-14zM1596 934h14v2h-14zM1684 934h4v2h-4zM1584 936h12v2h-12zM1688 936h4v2h-4zM1692 938h4v2h-4zM1696 940h4v2h-4zM1700 942h4v2h-4zM1704 944h4v2h-4zM1708 946h4v2h-4zM1712 948h4v2h-4zM1716 950h4v2h-4zM1720 952h4v2h-4zM1724 954h4v2h-4zM1728 956h4v2h-4zM1732 958h4v2h-4zM1736 960h4v2h-4zM1740 962h6v2h-6zM1746 964h4v2h-4zM1750 966h6v2h-6zM1756 968h12v2h-12zM1768 970h10v2h-10z" fill="#ffffff"/>
<path d="M318 790h32v2h-32zM298 792h20v2h-20zM350 792h16v2h-16zM284 794h14v2h-14zM366 794h8v2h-8zM272 796h12v2h-12zM374 796h10v2h-10zM262 798h10v2h-10zM384 798h8v2h-8zM250 800h12v2h-12zM392 800h8v2h-8zM238 802h12v2h-12zM400 802h10v2h-10zM226 804h12v2h-12zM410 804h8v2h-8zM214 806h12v2h-12zM418 806h10v2h-10zM202 808h12v2h-12zM428 808h8v2h-8zM192 810h10v2h-10zM436 810h8v2h-8zM444 812h10v2h-10zM454 814h8v2h-8zM462 816h8v2h-8zM470 818h10v2h-10zM480 820h6v2h-6zM486 822h6v2h-6zM492 824h8v2h-8zM500 826h6v2h-6zM1134 826h68v2h-68zM506 828h6v2h-6zM1118 828h16v2h-16zM1202 828h32v2h-32zM512 830h8v2h-8zM990 830h128v2h-128zM1234 830h20v2h-20zM520 832h6v2h-6zM972 832h18v2h-18zM1254 832h8v2h-8zM526 834h6v2h-6zM866 834h106v2h-106zM1262 834h8v2h-8zM532 836h8v2h-8zM840 836h26v2h-26zM1270 836h8v2h-8zM540 838h8v2h-8zM820 838h20v2h-20zM1278 838h8v2h-8zM548 840h8v2h-8zM808 840h12v2h-12zM1286 840h8v2h-8zM556 842h8v2h-8zM796 842h12v2h-12zM1294 842h6v2h-6zM564 844h8v2h-8zM782 844h14v2h-14zM1300 844h6v2h-6zM572 846h8v2h-8zM770 846h12v2h-12zM1306 846h6v2h-6zM580 848h8v2h-8zM758 848h12v2h-12zM1312 848h6v2h-6zM588 850h8v2h-8zM746 850h12v2h-12zM1318 850h6v2h-6zM596 852h26v2h-26zM734 852h12v2h-12zM1324 852h6v2h-6zM622 854h20v2h-20zM720 854h14v2h-14zM1330 854h6v2h-6zM642 856h16v2h-16zM706 856h14v2h-14zM1336 856h6v2h-6zM658 858h48v2h-48zM1342 858h6v2h-6zM1348 860h4v2h-4zM1352 862h6v2h-6zM1358 864h4v2h-4zM1362 866h6v2h-6zM1368 868h4v2h-4zM1372 870h4v2h-4zM1376 872h4v2h-4zM1380 874h6v2h-6zM1386 876h4v2h-4zM1390 878h4v2h-4zM1394 880h6v2h-6zM1400 882h4v2h-4zM1404 884h4v2h-4zM1408 886h4v2h-4zM1412 888h8v2h-8zM1420 890h6v2h-6zM1426 892h8v2h-8zM1434 894h8v2h-8zM1442 896h8v2h-8zM1450 898h8v2h-8zM1458 900h8v2h-8zM1466 902h6v2h-6zM1472 904h14v2h-14zM1486 906h12v2h-12zM1498 908h14v2h-14zM1512 910h14v2h-14zM1526 912h12v2h-12zM1538 914h12v2h-12zM1550 916h12v2h-12zM1562 918h14v2h-14zM1576 920h12v2h-12zM1588 922h12v2h-12zM1600 924h34v2h-34zM1634 926h36v2h-36zM1670 928h20v2h-20zM1690 930h12v2h-12zM1702 932h10v2h-10zM1712 934h10v2h-10zM1722 936h12v2h-12zM1734 938h8v2h-8zM1742 940h8v2h-8zM1750 942h8v2h-8zM1758 944h8v2h-8zM1766 946h8v2h-8zM1774 948h4v2h-4z" fill="#ffff00"/>
<rect x="192" y="882" width="2" height="46" fill="#eb4d5c"/>
<rect x="216" y="896" width="2" height="32" fill="#eb4d5c"/>
<rect x="240" y="900" width="2" height="28" fill="#eb4d5c"/>
<rect x="264" y="896" width="2" height="32" fill="#eb4d5c"/>
<rect x="288" y="892" width="2" height="36" fill="#eb4d5c"/>
<rect x="312" y="904" width="2" height="24" fill="#eb4d5c"/>
<rect x="336" y="914" width="2" height="14" fill="#eb4d5c"/>
<rect x="360" y="926" width="2" height="16" fill="#53b987"/>
<rect x="384" y="926" width="2" height="32" fill="#53b987"/>
<rect x="408" y="926" width="2" height="51" fill="#53b987"/>
<rect x="432" y="926" width="2" height="50" fill="#53b987"/>
<rect x="456" y="926" width="2" height="50" fill="#53b987"/>
<rect x="480" y="926" width="2" height="50" fill="#53b987"/>
<rect x="504" y="926" width="2" height="61" fill="#53b987"/>
<rect x="528" y="926" width="2" height="61" fill="#53b987"/>
<rect x="552" y="926" width="2" height="58" fill="#53b987"/>
<rect x="576" y="926" width="2" height="48" fill="#53b987"/>
<rect x="600" y="926" width="2" height="38" fill="#53b987"/>
<rect x="624" y="926" width="2" height="24" fill="#53b987"/>
<rect x="648" y="926" width="2" height="16" fill="#53b987"/>
<rect x="672" y="926" width="2" height="14" fill="#53b987"/>
<rect x="696" y="926" width="2" height="10" fill="#53b987"/>
<rect x="720" y="908" width="2" height="20" fill="#eb4d5c"/>
<rect x="744" y="892" width="2" height="36" fill="#eb4d5c"/>
<rect x="768" y="896" width="2" height="32" fill="#eb4d5c"/>
<rect x="792" y="896" width="2" height="32" fill="#eb4d5c"/>
<rect x="816" y="898" width="2" height="30" fill="#eb4d5c"/>
<rect x="840" y="904" width="2" height="24" fill="#eb4d5c"/>
<rect x="864" y="910" width="2" height="18" fill="#eb4d5c"/>
<rect x="888" y="918" width="2" height="10" fill="#eb4d5c"/>
<rect x="912" y="924" width="2" height="4" fill="#eb4d5c"/>
<rect x="936" y="922" width="2" height="6" fill="#eb4d5c"/>
<rect x="960" y="924" width="2" height="4" fill="#eb4d5c"/>
<rect x="984" y="910" width="2" height="18" fill="#eb4d5c"/>
<rect x="1008" y="912" width="2" height="16" fill="#eb4d5c"/>
<rect x="1032" y="926" width="2" height="4" fill="#53b987"/>
<rect x="1056" y="926" width="2" height="6" fill="#53b987"/>
<rect x="1080" y="926" width="2" height="4" fill="#53b987"/>
<rect x="1104" y="924" width="2" height="4" fill="#eb4d5c"/>
<rect x="1128" y="916" width="2" height="12" fill="#eb4d5c"/>
<rect x="1152" y="914" width="2" height="14" fill="#eb4d5c"/>
<rect x="1176" y="922" width="2" height="6" fill="#eb4d5c"/>
<rect x="1200" y="926" width="2" height="8" fill="#53b987"/>
<rect x="1224" y="926" width="2" height="18" fill="#53b987"/>
<rect x="1248" y="926" width="2" height="16" fill="#53b987"/>
<rect x="1272" y="926" width="2" height="42" fill="#53b987"/>
<rect x="1296" y="926" width="2" height="60" fill="#53b987"/>
<rect x="1320" y="926" width="2" height="64" fill="#53b987"/>
<rect x="1344" y="926" width="2" height="66" fill="#53b987"/>
<rect x="1368" y="926" width="2" height="80" fill="#53b987"/>
<rect x="1392" y="926" width="2" height="84" fill="#53b987"/>
<rect x="1416" y="926" width="2" height="78" fill="#53b987"/>
<rect x="1440" y="926" width="2" height="66" fill="#53b987"/>
<rect x="1464" y="926" width="2" height="54" fill="#53b987"/>
<rect x="1488" y="926" width="2" height="36" fill="#53b987"/>
<rect x="1512" y="926" width="2" height="26" fill="#53b987"/>
<rect x="1536" y="926" width="2" height="26" fill="#53b987"/>
<rect x="1560" y="926" width="2" height="34" fill="#53b987"/>
<rect x="1584" y="926" width="2" height="34" fill="#53b987"/>
<rect x="1608" y="926" width="2" height="26" fill="#53b987"/>
<rect x="1632" y="926" width="2" height="14" fill="#53b987"/>
<rect x="1656" y="926" width="2" height="16" fill="#53b987"/>
<rect x="1680" y="926" width="2" height="14" fill="#53b987"/>
<rect x="1704" y="926" width="2" height="30" fill="#53b987"/>
<rect x="1728" y="926" width="2" height="44" fill="#53b987"/>
<rect x="1752" y="926" width="2" height="50" fill="#53b987"/>
<rect x="1776" y="926" width="2" height="48" fill="#53b987"/>
<path d="M984 1056h2v2h-2zM982 1058h2v2h-2zM986 1058h2v2h-2zM980 1060h2v2h-2zM988 1060h2v2h-2zM980 1062h2v2h-2zM990 1062h2v2h-2zM286 1064h4v2h-4zM978 1064h2v2h-2zM992 1064h2v2h-2zM282 1066h4v2h-4zM290 1066h2v2h-2zM736 1066h10v2h-10zM976 1066h2v2h-2zM992 1066h2v2h-2zM278 1068h4v2h-4zM290 1068h2v2h-2zM726 1068h10v2h-10zM746 1068h2v2h-2zM974 1068h2v2h-2zM994 1068h2v2h-2zM274 1070h4v2h-4zM292 1070h2v2h-2zM720 1070h6v2h-6zM746 1070h2v2h-2zM974 1070h2v2h-2zM996 1070h2v2h-2zM270 1072h4v2h-4zM294 1072h2v2h-2zM718 1072h2v2h-2zM748 1072h2v2h-2zM972 1072h2v2h-2zM998 1072h2v2h-2zM266 1074h4v2h-4zM294 1074h2v2h-2zM718 1074h2v2h-2zM748 1074h2v2h-2zM970 1074h2v2h-2zM1000 1074h2v2h-2zM262 1076h4v2h-4zM296 1076h2v2h-2zM718 1076h2v2h-2zM750 1076h2v2h-2zM968 1076h2v2h-2zM1000 1076h2v2h-2zM258 1078h4v2h-4zM296 1078h2v2h-2zM716 1078h2v2h-2zM752 1078h2v2h-2zM968 1078h2v2h-2zM1002 1078h2v2h-2zM1128 1078h14v2h-14zM254 1080h4v2h-4zM298 1080h2v2h-2zM716 1080h2v2h-2zM752 1080h2v2h-2zM966 1080h2v2h-2zM1004 1080h2v2h-2zM1124 1080h4v2h-4zM1142 1080h12v2h-12zM248 1082h6v2h-6zM300 1082h2v2h-2zM714 1082h2v2h-2zM754 1082h2v2h-2zM936 1082h6v2h-6zM964 1082h2v2h-2zM1006 1082h2v2h-2zM1122 1082h2v2h-2zM1154 1082h2v2h-2zM244 1084h4v2h-4zM300 1084h2v2h-2zM714 1084h2v2h-2zM754 1084h2v2h-2zM934 1084h2v2h-2zM942 1084h8v2h-8zM962 1084h2v2h-2zM1008 1084h2v2h-2zM1120 1084h2v2h-2zM1154 1084h2v2h-2zM240 1086h4v2h-4zM302 1086h2v2h-2zM712 1086h2v2h-2zM756 1086h2v2h-2zM932 1086h2v2h-2zM950 1086h8v2h-8zM962 1086h2v2h-2zM1008 1086h2v2h-2zM1116 1086h4v2h-4zM1156 1086h2v2h-2zM238 1088h2v2h-2zM304 1088h2v2h-2zM712 1088h2v2h-2zM756 1088h2v2h-2zM930 1088h2v2h-2zM958 1088h4v2h-4zM1010 1088h2v2h-2zM1114 1088h2v2h-2zM1158 1088h2v2h-2zM234 1090h4v2h-4zM304 1090h2v2h-2zM710 1090h2v2h-2zM758 1090h2v2h-2zM926 1090h4v2h-4zM1010 1090h2v2h-2zM1110 1090h4v2h-4zM1160 1090h2v2h-2zM232 1092h2v2h-2zM306 1092h2v2h-2zM710 1092h2v2h-2zM760 1092h2v2h-2zM924 1092h2v2h-2zM1012 1092h2v2h-2zM1108 1092h2v2h-2zM1160 1092h2v2h-2zM230 1094h2v2h-2zM306 1094h2v2h-2zM708 1094h2v2h-2zM760 1094h2v2h-2zM922 1094h2v2h-2zM1012 1094h2v2h-2zM1106 1094h2v2h-2zM1162 1094h2v2h-2zM226 1096h4v2h-4zM308 1096h2v2h-2zM708 1096h2v2h-2zM762 1096h2v2h-2zM920 1096h2v2h-2zM1014 1096h2v2h-2zM1096 1096h10v2h-10zM1164 1096h2v2h-2zM224 1098h2v2h-2zM310 1098h2v2h-2zM706 1098h2v2h-2zM762 1098h2v2h-2zM790 1098h80v2h-80zM918 1098h2v2h-2zM1014 1098h2v2h-2zM1088 1098h8v2h-8zM1164 1098h2v2h-2zM222 1100h2v2h-2zM310 1100h2v2h-2zM706 1100h2v2h-2zM764 1100h2v2h-2zM786 1100h4v2h-4zM870 1100h8v2h-8zM916 1100h2v2h-2zM1016 1100h2v2h-2zM1080 1100h8v2h-8zM1166 1100h2v2h-2zM192 1102h12v2h-12zM218 1102h4v2h-4zM312 1102h26v2h-26zM704 1102h2v2h-2zM764 1102h2v2h-2zM780 1102h6v2h-6zM878 1102h8v2h-8zM914 1102h2v2h-2zM1016 1102h2v2h-2zM1076 1102h4v2h-4zM1168 1102h2v2h-2zM204 1104h14v2h-14zM338 1104h2v2h-2zM704 1104h2v2h-2zM766 1104h2v2h-2zM776 1104h4v2h-4zM886 1104h28v2h-28zM1018 1104h2v2h-2zM1072 1104h4v2h-4zM1170 1104h2v2h-2zM338 1106h2v2h-2zM702 1106h2v2h-2zM766 1106h2v2h-2zM772 1106h4v2h-4zM1018 1106h2v2h-2zM1068 1106h4v2h-4zM1170 1106h2v2h-2zM340 1108h2v2h-2zM702 1108h2v2h-2zM768 1108h4v2h-4zM1018 1108h2v2h-2zM1064 1108h4v2h-4zM1172 1108h2v2h-2zM340 1110h2v2h-2zM700 1110h2v2h-2zM1020 1110h2v2h-2zM1060 1110h4v2h-4zM1174 1110h2v2h-2zM1248 1110h2v2h-2zM342 1112h2v2h-2zM700 1112h2v2h-2zM1020 1112h2v2h-2zM1056 1112h4v2h-4zM1176 1112h2v2h-2zM1246 1112h4v2h-4zM342 1114h2v2h-2zM622 1114h8v2h-8zM698 1114h2v2h-2zM1022 1114h2v2h-2zM1054 1114h2v2h-2zM1176 1114h8v2h-8zM1244 1114h2v2h-2zM1250 1114h2v2h-2zM344 1116h2v2h-2zM620 1116h2v2h-2zM630 1116h8v2h-8zM698 1116h2v2h-2zM1022 1116h2v2h-2zM1052 1116h2v2h-2zM1184 1116h8v2h-8zM1242 1116h2v2h-2zM1250 1116h2v2h-2zM344 1118h2v2h-2zM616 1118h4v2h-4zM638 1118h8v2h-8zM696 1118h2v2h-2zM1024 1118h2v2h-2zM1050 1118h2v2h-2zM1192 1118h6v2h-6zM1238 1118h4v2h-4zM1250 1118h2v2h-2zM346 1120h2v2h-2zM614 1120h2v2h-2zM646 1120h8v2h-8zM692 1120h6v2h-6zM1024 1120h2v2h-2zM1048 1120h2v2h-2zM1198 1120h6v2h-6zM1236 1120h2v2h-2zM1252 1120h2v2h-2zM346 1122h2v2h-2zM610 1122h4v2h-4zM654 1122h8v2h-8zM684 1122h8v2h-8zM1026 1122h2v2h-2zM1046 1122h2v2h-2zM1204 1122h4v2h-4zM1234 1122h2v2h-2zM1252 1122h2v2h-2zM348 1124h2v2h-2zM608 1124h2v2h-2zM662 1124h8v2h-8zM676 1124h8v2h-8zM1026 1124h2v2h-2zM1044 1124h2v2h-2zM1208 1124h4v2h-4zM1232 1124h2v2h-2zM1252 1124h2v2h-2zM348 1126h2v2h-2zM604 1126h4v2h-4zM670 1126h6v2h-6zM1028 1126h2v2h-2zM1042 1126h2v2h-2zM1212 1126h4v2h-4zM1230 1126h2v2h-2zM1252 1126h2v2h-2zM350 1128h2v2h-2zM602 1128h2v2h-2zM1028 1128h2v2h-2zM1040 1128h2v2h-2zM1216 1128h4v2h-4zM1228 1128h2v2h-2zM1254 1128h2v2h-2zM350 1130h2v2h-2zM598 1130h4v2h-4zM1030 1130h2v2h-2zM1038 1130h2v2h-2zM1220 1130h4v2h-4zM1226 1130h2v2h-2zM1254 1130h2v2h-2zM352 1132h2v2h-2zM594 1132h4v2h-4zM1030 1132h2v2h-2zM1036 1132h2v2h-2zM1224 1132h2v2h-2zM1254 1132h2v2h-2zM352 1134h2v2h-2zM590 1134h4v2h-4zM1032 1134h4v2h-4zM1256 1134h2v2h-2zM354 1136h2v2h-2zM584 1136h6v2h-6zM1032 1136h2v2h-2zM1256 1136h2v2h-2zM354 1138h2v2h-2zM432 1138h16v2h-16zM580 1138h4v2h-4zM1256 1138h2v2h-2zM356 1140h2v2h-2zM430 1140h2v2h-2zM448 1140h34v2h-34zM576 1140h4v2h-4zM1258 1140h2v2h-2zM356 1142h2v2h-2zM428 1142h2v2h-2zM482 1142h2v2h-2zM572 1142h4v2h-4zM1258 1142h2v2h-2zM358 1144h2v2h-2zM378 1144h8v2h-8zM426 1144h2v2h-2zM482 1144h2v2h-2zM568 1144h4v2h-4zM1258 1144h2v2h-2zM358 1146h2v2h-2zM366 1146h12v2h-12zM386 1146h2v2h-2zM424 1146h2v2h-2zM484 1146h2v2h-2zM564 1146h4v2h-4zM1258 1146h2v2h-2zM360 1148h6v2h-6zM388 1148h4v2h-4zM422 1148h2v2h-2zM486 1148h2v2h-2zM560 1148h4v2h-4zM1260 1148h2v2h-2zM392 1150h2v2h-2zM420 1150h2v2h-2zM488 1150h2v2h-2zM554 1150h6v2h-6zM1260 1150h2v2h-2zM394 1152h2v2h-2zM418 1152h2v2h-2zM488 1152h2v2h-2zM550 1152h4v2h-4zM1260 1152h2v2h-2zM396 1154h2v2h-2zM418 1154h2v2h-2zM490 1154h2v2h-2zM546 1154h4v2h-4zM1262 1154h2v2h-2zM1488 1154h8v2h-8zM398 1156h2v2h-2zM416 1156h2v2h-2zM492 1156h2v2h-2zM540 1156h6v2h-6zM1262 1156h2v2h-2zM1486 1156h2v2h-2zM1496 1156h12v2h-12zM400 1158h4v2h-4zM414 1158h2v2h-2zM492 1158h2v2h-2zM536 1158h4v2h-4zM1262 1158h2v2h-2zM1484 1158h2v2h-2zM1508 1158h6v2h-6zM404 1160h2v2h-2zM412 1160h2v2h-2zM494 1160h2v2h-2zM530 1160h6v2h-6zM1264 1160h2v2h-2zM1482 1160h2v2h-2zM1514 1160h2v2h-2zM406 1162h2v2h-2zM410 1162h2v2h-2zM496 1162h2v2h-2zM526 1162h4v2h-4zM1264 1162h2v2h-2zM1480 1162h2v2h-2zM1516 1162h2v2h-2zM1632 1162h2v2h-2zM408 1164h2v2h-2zM498 1164h2v2h-2zM522 1164h4v2h-4zM1264 1164h2v2h-2zM1478 1164h2v2h-2zM1516 1164h2v2h-2zM1628 1164h4v2h-4zM1634 1164h2v2h-2zM498 1166h2v2h-2zM518 1166h4v2h-4zM1264 1166h2v2h-2zM1476 1166h2v2h-2zM1518 1166h2v2h-2zM1624 1166h4v2h-4zM1636 1166h2v2h-2zM500 1168h2v2h-2zM514 1168h4v2h-4zM1266 1168h2v2h-2zM1472 1168h4v2h-4zM1520 1168h2v2h-2zM1620 1168h4v2h-4zM1638 1168h2v2h-2zM502 1170h2v2h-2zM510 1170h4v2h-4zM1266 1170h2v2h-2zM1470 1170h2v2h-2zM1522 1170h2v2h-2zM1616 1170h4v2h-4zM1640 1170h2v2h-2zM502 1172h2v2h-2zM506 1172h4v2h-4zM1266 1172h2v2h-2zM1468 1172h2v2h-2zM1524 1172h2v2h-2zM1612 1172h4v2h-4zM1642 1172h2v2h-2zM504 1174h2v2h-2zM1268 1174h2v2h-2zM1466 1174h2v2h-2zM1524 1174h2v2h-2zM1608 1174h4v2h-4zM1644 1174h2v2h-2zM1268 1176h2v2h-2zM1464 1176h2v2h-2zM1526 1176h2v2h-2zM1606 1176h2v2h-2zM1646 1176h2v2h-2zM1268 1178h2v2h-2zM1320 1178h6v2h-6zM1458 1178h6v2h-6zM1528 1178h2v2h-2zM1604 1178h2v2h-2zM1648 1178h2v2h-2zM1270 1180h2v2h-2zM1316 1180h4v2h-4zM1326 1180h12v2h-12zM1452 1180h6v2h-6zM1530 1180h2v2h-2zM1602 1180h2v2h-2zM1650 1180h2v2h-2zM1676 1180h6v2h-6zM1270 1182h2v2h-2zM1314 1182h2v2h-2zM1338 1182h8v2h-8zM1448 1182h4v2h-4zM1532 1182h2v2h-2zM1600 1182h2v2h-2zM1652 1182h2v2h-2zM1668 1182h8v2h-8zM1682 1182h2v2h-2zM1270 1184h2v2h-2zM1312 1184h2v2h-2zM1346 1184h2v2h-2zM1442 1184h6v2h-6zM1532 1184h2v2h-2zM1598 1184h2v2h-2zM1654 1184h2v2h-2zM1660 1184h8v2h-8zM1682 1184h2v2h-2zM1270 1186h2v2h-2zM1308 1186h4v2h-4zM1346 1186h2v2h-2zM1426 1186h16v2h-16zM1534 1186h2v2h-2zM1596 1186h2v2h-2zM1656 1186h4v2h-4zM1684 1186h2v2h-2zM1272 1188h2v2h-2zM1306 1188h2v2h-2zM1348 1188h2v2h-2zM1416 1188h10v2h-10zM1536 1188h2v2h-2zM1594 1188h2v2h-2zM1684 1188h2v2h-2zM1272 1190h6v2h-6zM1304 1190h2v2h-2zM1350 1190h2v2h-2zM1414 1190h2v2h-2zM1538 1190h2v2h-2zM1594 1190h2v2h-2zM1684 1190h2v2h-2zM1278 1192h8v2h-8zM1300 1192h4v2h-4zM1350 1192h2v2h-2zM1414 1192h2v2h-2zM1540 1192h4v2h-4zM1592 1192h2v2h-2zM1686 1192h2v2h-2zM1286 1194h8v2h-8zM1298 1194h2v2h-2zM1352 1194h2v2h-2zM1412 1194h2v2h-2zM1544 1194h2v2h-2zM1590 1194h2v2h-2zM1686 1194h2v2h-2zM1294 1196h4v2h-4zM1354 1196h2v2h-2zM1410 1196h2v2h-2zM1546 1196h2v2h-2zM1588 1196h2v2h-2zM1688 1196h2v2h-2zM1354 1198h2v2h-2zM1408 1198h2v2h-2zM1548 1198h4v2h-4zM1586 1198h2v2h-2zM1688 1198h2v2h-2zM1356 1200h2v2h-2zM1408 1200h2v2h-2zM1552 1200h2v2h-2zM1580 1200h6v2h-6zM1690 1200h2v2h-2zM1358 1202h2v2h-2zM1406 1202h2v2h-2zM1554 1202h2v2h-2zM1572 1202h8v2h-8zM1690 1202h2v2h-2zM1358 1204h2v2h-2zM1404 1204h2v2h-2zM1556 1204h4v2h-4zM1564 1204h8v2h-8zM1692 1204h2v2h-2zM1360 1206h2v2h-2zM1404 1206h2v2h-2zM1560 1206h4v2h-4zM1692 1206h2v2h-2zM1362 1208h2v2h-2zM1402 1208h2v2h-2zM1694 1208h2v2h-2zM1362 1210h2v2h-2zM1400 1210h2v2h-2zM1694 1210h2v2h-2zM1364 1212h2v2h-2zM1400 1212h2v2h-2zM1696 1212h2v2h-2zM1366 1214h2v2h-2zM1398 1214h2v2h-2zM1696 1214h2v2h-2zM1366 1216h2v2h-2zM1396 1216h2v2h-2zM1698 1216h2v2h-2zM1368 1218h8v2h-8zM1394 1218h2v2h-2zM1698 1218h2v2h-2zM1376 1220h12v2h-12zM1394 1220h2v2h-2zM1700 1220h2v2h-2zM1388 1222h6v2h-6zM1700 1222h2v2h-2zM1702 1224h2v2h-2zM1776 1224h2v2h-2zM1702 1226h2v2h-2zM1772 1226h4v2h-4zM1704 1228h2v2h-2zM1770 1228h2v2h-2zM1704 1230h4v2h-4zM1766 1230h4v2h-4zM1708 1232h4v2h-4zM1764 1232h2v2h-2zM1712 1234h4v2h-4zM1760 1234h4v2h-4zM1716 1236h6v2h-6zM1758 1236h2v2h-2zM1722 1238h4v2h-4zM1754 1238h4v2h-4zM1726 1240h28v2h-28z" fill="#ff20ff"/>
</g>
<text class="ls" x="71.70000000000002" y="50" font-size="25" fill="#e8e8ea" textLength="102.6" lengthAdjust="spacingAndGlyphs">110.7411</text>
<text class="ls" x="1917.3" y="50" font-size="25" fill="#e8e8ea" textLength="102.6" lengthAdjust="spacingAndGlyphs">110.7411</text>
<text class="ls" x="71.70000000000002" y="164" font-size="25" fill="#e8e8ea" textLength="102.6" lengthAdjust="spacingAndGlyphs">109.3900</text>
<text class="ls" x="1917.3" y="164" font-size="25" fill="#e8e8ea" textLength="102.6" lengthAdjust="spacingAndGlyphs">109.3900</text>
<text class="ls" x="71.70000000000002" y="280" font-size="25" fill="#e8e8ea" textLength="102.6" lengthAdjust="spacingAndGlyphs">108.0390</text>
<text class="ls" x="1917.3" y="280" font-size="25" fill="#e8e8ea" textLength="102.6" lengthAdjust="spacingAndGlyphs">108.0390</text>
<text class="ls" x="71.70000000000002" y="396" font-size="25" fill="#e8e8ea" textLength="102.6" lengthAdjust="spacingAndGlyphs">106.6880</text>
<text class="ls" x="1917.3" y="396" font-size="25" fill="#e8e8ea" textLength="102.6" lengthAdjust="spacingAndGlyphs">106.6880</text>
<text class="ls" x="71.70000000000002" y="510" font-size="25" fill="#e8e8ea" textLength="102.6" lengthAdjust="spacingAndGlyphs">105.3369</text>
<text class="ls" x="1917.3" y="510" font-size="25" fill="#e8e8ea" textLength="102.6" lengthAdjust="spacingAndGlyphs">105.3369</text>
<text class="ls" x="71.70000000000002" y="626" font-size="25" fill="#e8e8ea" textLength="102.6" lengthAdjust="spacingAndGlyphs">103.9858</text>
<text class="ls" x="1917.3" y="626" font-size="25" fill="#e8e8ea" textLength="102.6" lengthAdjust="spacingAndGlyphs">103.9858</text>
<text class="ls" x="99.10000000000001" y="784" font-size="25" fill="#e8e8ea" textLength="75.2" lengthAdjust="spacingAndGlyphs">0.9946</text>
<text class="ls" x="1917.3" y="784" font-size="25" fill="#e8e8ea" textLength="75.2" lengthAdjust="spacingAndGlyphs">0.9946</text>
<text class="ls" x="99.10000000000001" y="830" font-size="25" fill="#e8e8ea" textLength="75.2" lengthAdjust="spacingAndGlyphs">0.6833</text>
<text class="ls" x="1917.3" y="830" font-size="25" fill="#e8e8ea" textLength="75.2" lengthAdjust="spacingAndGlyphs">0.6833</text>
<text class="ls" x="99.10000000000001" y="876" font-size="25" fill="#e8e8ea" textLength="75.2" lengthAdjust="spacingAndGlyphs">0.3721</text>
<text class="ls" x="1917.3" y="876" font-size="25" fill="#e8e8ea" textLength="75.2" lengthAdjust="spacingAndGlyphs">0.3721</text>
<text class="ls" x="99.10000000000001" y="924" font-size="25" fill="#e8e8ea" textLength="75.2" lengthAdjust="spacingAndGlyphs">0.0608</text>
<text class="ls" x="1917.3" y="924" font-size="25" fill="#e8e8ea" textLength="75.2" lengthAdjust="spacingAndGlyphs">0.0608</text>
<text class="ls" x="90.9" y="970" font-size="25" fill="#e8e8ea" textLength="83.4" lengthAdjust="spacingAndGlyphs">-0.2504</text>
<text class="ls" x="1917.3" y="970" font-size="25" fill="#e8e8ea" textLength="83.4" lengthAdjust="spacingAndGlyphs">-0.2504</text>
<text class="ls" x="85.4" y="1062" font-size="25" fill="#e8e8ea" textLength="88.9" lengthAdjust="spacingAndGlyphs">73.7485</text>
<text class="ls" x="1917.3" y="1062" font-size="25" fill="#e8e8ea" textLength="88.9" lengthAdjust="spacingAndGlyphs">73.7485</text>
<text class="ls" x="85.4" y="1108" font-size="25" fill="#e8e8ea" textLength="88.9" lengthAdjust="spacingAndGlyphs">64.4699</text>
<text class="ls" x="1917.3" y="1108" font-size="25" fill="#e8e8ea" textLength="88.9" lengthAdjust="spacingAndGlyphs">64.4699</text>
<text class="ls" x="85.4" y="1156" font-size="25" fill="#e8e8ea" textLength="88.9" lengthAdjust="spacingAndGlyphs">55.1913</text>
<text class="ls" x="1917.3" y="1156" font-size="25" fill="#e8e8ea" textLength="88.9" lengthAdjust="spacingAndGlyphs">55.1913</text>
<text class="ls" x="85.4" y="1202" font-size="25" fill="#e8e8ea" textLength="88.9" lengthAdjust="spacingAndGlyphs">45.9126</text>
<text class="ls" x="1917.3" y="1202" font-size="25" fill="#e8e8ea" textLength="88.9" lengthAdjust="spacingAndGlyphs">45.9126</text>
<text class="ls" x="299.5" y="264" font-size="25" fill="#e64c59" font-weight="bold" textLength="103" lengthAdjust="spacingAndGlyphs">108.0899</text>
<text class="ls" x="539.5" y="522" font-size="25" fill="#4cb088" font-weight="bold" textLength="103" lengthAdjust="spacingAndGlyphs">105.4100</text>
<text class="ls" x="1163.5" y="86" font-size="25" fill="#e64c59" font-weight="bold" textLength="103" lengthAdjust="spacingAndGlyphs">110.1699</text>
<text class="ls" x="1807.5" y="276" font-size="25" fill="#ffff00" textLength="102" lengthAdjust="spacingAndGlyphs">107.9200</text>
<text class="ls" x="1807.5" y="326" font-size="25" fill="#ffff00" textLength="102" lengthAdjust="spacingAndGlyphs">107.3500</text>
<text class="ls" x="1807.5" y="396" font-size="25" fill="#ffff00" textLength="102" lengthAdjust="spacingAndGlyphs">106.5200</text>
<text class="ls" x="1807.5" y="450" font-size="25" fill="#ffff00" textLength="102" lengthAdjust="spacingAndGlyphs">105.8900</text>
<rect x="2030" y="346" width="16" height="16" fill="#070707"/>
<path d="M2038 346 L2046 354 L2030 354 Z M2038 354 L2046 362 L2030 362 Z" fill="#ffa033"/>
<rect x="1911" y="363" width="136" height="34" fill="#000000" stroke="#ffa033" stroke-width="2"/>
<text class="ls" x="1917.5" y="388.3" font-size="25" fill="#ff8a1e" textLength="102.5" lengthAdjust="spacingAndGlyphs">107.0150</text>
<text class="cj" x="184" y="28" font-size="24" fill="#f0f0f0" textLength="96" lengthAdjust="spacingAndGlyphs">美元指数</text>
<text class="cj" x="280" y="28" font-size="24" fill="#ff6a00" textLength="96" lengthAdjust="spacingAndGlyphs">【日线】</text>
<g stroke="#ff6a00" stroke-width="2" fill="none"><circle cx="387" cy="23" r="8"/><path d="M379 23H395M387 15V31"/></g>
<rect x="434" y="4" width="2" height="24" fill="#9a9a9a"/>
<rect x="412" y="28" width="22" height="2" fill="#9a9a9a"/>
<rect x="412" y="2" width="20" height="26" fill="#000090"/>
<rect x="410" y="4" width="24" height="22" fill="#000090"/>
<rect x="412" y="4" width="20" height="22" fill="#ffffff"/>
<path d="M412 16h2v2h-2zM414 14h2v2h-2zM416 12h2v2h-2zM418 10h2v2h-2zM418 8h2v2h-2zM420 10h2v2h-2zM422 12h2v2h-2zM424 14h2v2h-2zM426 12h2v2h-2zM428 10h2v2h-2zM430 10h2v2h-2z" fill="#ff0000" shape-rendering="crispEdges"/>
<path d="M412 22h2v2h-2zM414 20h2v2h-2zM416 18h2v2h-2zM418 16h2v2h-2zM418 14h2v2h-2zM420 16h2v2h-2zM422 18h2v2h-2zM424 20h2v2h-2zM426 18h2v2h-2zM428 16h2v2h-2zM430 16h2v2h-2z" fill="#0000ff" shape-rendering="crispEdges"/>
<text class="ls" x="441.5" y="26.7" font-size="24.6" fill="#d8dce6" textLength="266" lengthAdjust="spacingAndGlyphs">MA(55,14,9,20,100,200)</text>
<text class="ls" x="718" y="26.7" font-size="24.6" fill="#d8dce6" textLength="175" lengthAdjust="spacingAndGlyphs">MA55:107.9150</text>
<text class="ls" x="911" y="26.7" font-size="24.6" fill="#d6d600" textLength="177" lengthAdjust="spacingAndGlyphs">MA14:107.7389</text>
<text class="ls" x="1106" y="26.7" font-size="24.6" fill="#e628e6" textLength="162" lengthAdjust="spacingAndGlyphs">MA9:107.5172</text>
<text class="ls" x="1285" y="26.7" font-size="24.6" fill="#22d022" textLength="176" lengthAdjust="spacingAndGlyphs">MA20:107.7687</text>
<text class="ls" x="1479" y="26.7" font-size="24.6" fill="#808080" textLength="149" lengthAdjust="spacingAndGlyphs">MA100:106.4</text>
<text class="ls" x="185" y="761" font-size="24.6" fill="#d8dce6" textLength="317" lengthAdjust="spacingAndGlyphs">MACD(26,12,9) DIFF:-0.2901</text>
<text class="ls" x="524" y="761" font-size="24.6" fill="#d6d600" textLength="135" lengthAdjust="spacingAndGlyphs">DEA:-0.1411</text>
<text class="ls" x="679" y="761" font-size="24.6" fill="#e628e6" textLength="164" lengthAdjust="spacingAndGlyphs">MACD:-0.2980</text>
<text class="ls" x="185" y="1039" font-size="24.6" fill="#d8dce6" textLength="303" lengthAdjust="spacingAndGlyphs">RSI(14,14,14) RSI1:40.6749</text>
<text class="ls" x="507" y="1039" font-size="24.6" fill="#d6d600" textLength="146" lengthAdjust="spacingAndGlyphs">RSI2:40.6749</text>
<text class="ls" x="671" y="1039" font-size="24.6" fill="#e628e6" textLength="147" lengthAdjust="spacingAndGlyphs">RSI3:40.6749</text>
<rect x="1782" y="0" width="128" height="32" fill="#060606"/>
<g shape-rendering="crispEdges">
<rect x="1785" y="3" width="26" height="26" fill="none" stroke="#b8b8b8" stroke-width="2"/>
<rect x="1817" y="3" width="26" height="26" fill="none" stroke="#b8b8b8" stroke-width="2"/>
<rect x="1849" y="3" width="26" height="26" fill="none" stroke="#1e8ae0" stroke-width="2"/>
<rect x="1881" y="3" width="26" height="26" fill="none" stroke="#b8b8b8" stroke-width="2"/>
<rect x="1796" y="6" width="4" height="6" fill="#a8a8a8"/>
<rect x="1796" y="14" width="4" height="4" fill="#a8a8a8"/>
<rect x="1796" y="20" width="4" height="6" fill="#a8a8a8"/>
<rect x="1788" y="14" width="6" height="4" fill="#a8a8a8"/>
<rect x="1802" y="14" width="6" height="4" fill="#a8a8a8"/>
<rect x="1822" y="6" width="2" height="20" fill="#b8b8b8"/>
<rect x="1820" y="22" width="20" height="2" fill="#b8b8b8"/>
<rect x="1820" y="8" width="6" height="2" fill="#b8b8b8"/>
<rect x="1836" y="20" width="2" height="6" fill="#b8b8b8"/>
<rect x="1828" y="8" width="2" height="12" fill="#b8b8b8"/>
<path d="M1836 8 V18 L1831 13 Z" fill="#b8b8b8"/>
<rect x="1854" y="6" width="2" height="20" fill="#1e8ae0"/>
<rect x="1852" y="22" width="20" height="2" fill="#1e8ae0"/>
<rect x="1852" y="8" width="6" height="2" fill="#1e8ae0"/>
<rect x="1868" y="20" width="2" height="6" fill="#1e8ae0"/>
<path d="M1860 8 L1870 15 L1860 22 Z" fill="#1e8ae0"/>
<rect x="1885" y="7" width="6" height="18" fill="none" stroke="#b8b8b8" stroke-width="2"/>
<rect x="1888" y="14" width="12" height="3" fill="#b8b8b8"/>
<path d="M1896 10.5 L1902 15.5 L1896 20.5 Z" fill="#b8b8b8"/>
</g>
<text class="cs" x="19" y="37" font-size="24" fill="#bcbcbc" text-anchor="middle">分</text>
<text class="cs" x="19" y="64" font-size="24" fill="#bcbcbc" text-anchor="middle">时</text>
<text class="cs" x="19" y="91" font-size="24" fill="#bcbcbc" text-anchor="middle">图</text>
<text class="cs" x="19" y="161" font-size="24" fill="#ffffff" text-anchor="middle">线</text>
<text class="cs" x="19" y="188" font-size="24" fill="#ffffff" text-anchor="middle">图</text>
<text class="mo" x="14" y="133" font-size="26" fill="#ffffff" font-weight="bold" textLength="12" lengthAdjust="spacingAndGlyphs">K</text>
<text class="cs" x="19" y="232" font-size="24" fill="#bcbcbc" text-anchor="middle">闪</text>
<text class="cs" x="19" y="260" font-size="24" fill="#bcbcbc" text-anchor="middle">电</text>
<text class="cs" x="19" y="287" font-size="24" fill="#bcbcbc" text-anchor="middle">图</text>
<text class="cs" x="19" y="334" font-size="24" fill="#bcbcbc" text-anchor="middle">合</text>
<text class="cs" x="19" y="362" font-size="24" fill="#bcbcbc" text-anchor="middle">约</text>
<text class="cs" x="19" y="390" font-size="24" fill="#bcbcbc" text-anchor="middle">资</text>
<text class="cs" x="19" y="418" font-size="24" fill="#bcbcbc" text-anchor="middle">料</text>
<g><circle cx="58" cy="1025" r="7.5" fill="#000"/><circle cx="58" cy="1025" r="6" fill="#fff"/><circle cx="58" cy="1025" r="3.6" fill="#ff0000"/><path d="M58 1012v4M58 1034v4M45 1025h4M67 1025h4M48.5 1015.5l3 3M64.5 1031.5l3 3M67.5 1015.5l-3 3M51.5 1031.5l-3 3" stroke="#ff0000" stroke-width="2"/></g>
<text class="ls" x="436" y="1267.5" font-size="24" fill="#f4f4f6" font-weight="bold" textLength="89" lengthAdjust="spacingAndGlyphs">2024/12</text>
<text class="ls" x="964" y="1267.5" font-size="24" fill="#f4f4f6" font-weight="bold" textLength="88" lengthAdjust="spacingAndGlyphs">2025/01</text>
<text class="ls" x="1517" y="1267.5" font-size="24" fill="#f4f4f6" font-weight="bold" textLength="88" lengthAdjust="spacingAndGlyphs">2025/02</text>
<text class="cj" x="68.5" y="1273.5" font-size="25" fill="#ff6a00" font-weight="bold" textLength="50" lengthAdjust="spacingAndGlyphs">日线</text>
<path d="M138.5 1256 L147 1272 L130 1272 Z" fill="#ff6a00"/>
<rect x="40" y="1284" width="78" height="30" fill="#070707"/>
<text class="cs" x="79.0" y="1308" font-size="24" fill="#ffffff" text-anchor="middle" textLength="47" lengthAdjust="spacingAndGlyphs">指标</text>
<rect x="120" y="1284" width="78" height="30" fill="#070707"/>
<text class="cs" x="159.0" y="1308" font-size="24" fill="#ffffff" text-anchor="middle" textLength="47" lengthAdjust="spacingAndGlyphs">模板</text>
<rect x="200" y="1282" width="114" height="30" fill="#ff6a00"/>
<rect x="200" y="1312" width="114" height="2" fill="#070707"/>
<text class="mo" x="216" y="1308" font-size="24" fill="#ffffff" textLength="36" lengthAdjust="spacingAndGlyphs">VIP</text>
<text class="cs" x="252" y="1308" font-size="24" fill="#ffffff" textLength="47" lengthAdjust="spacingAndGlyphs">指标</text>
<rect x="316" y="1284" width="150" height="30" fill="#070707"/>
<text class="mo" x="331.0" y="1307" font-size="24" fill="#b4b4b4" textLength="120" lengthAdjust="spacingAndGlyphs">BARUPDN_UD</text>
<rect x="468" y="1284" width="113" height="30" fill="#070707"/>
<text class="mo" x="482.5" y="1307" font-size="24" fill="#b4b4b4" textLength="84" lengthAdjust="spacingAndGlyphs">BIAS_UD</text>
<rect x="583" y="1284" width="115" height="30" fill="#070707"/>
<text class="mo" x="598.5" y="1307" font-size="24" fill="#b4b4b4" textLength="84" lengthAdjust="spacingAndGlyphs">BOLL_UD</text>
<rect x="700" y="1284" width="102" height="30" fill="#070707"/>
<text class="mo" x="715.0" y="1307" font-size="24" fill="#b4b4b4" textLength="72" lengthAdjust="spacingAndGlyphs">CCI_UD</text>
<rect x="804" y="1284" width="102" height="30" fill="#070707"/>
<text class="mo" x="819.0" y="1307" font-size="24" fill="#b4b4b4" textLength="72" lengthAdjust="spacingAndGlyphs">DMI_UD</text>
<rect x="908" y="1284" width="138" height="30" fill="#070707"/>
<text class="mo" x="923.0" y="1307" font-size="24" fill="#b4b4b4" textLength="108" lengthAdjust="spacingAndGlyphs">INSIDE_UD</text>
<rect x="1048" y="1284" width="90" height="30" fill="#070707"/>
<text class="mo" x="1063.0" y="1307" font-size="24" fill="#b4b4b4" textLength="60" lengthAdjust="spacingAndGlyphs">KD_UD</text>
<rect x="1140" y="1284" width="102" height="30" fill="#070707"/>
<text class="mo" x="1155.0" y="1307" font-size="24" fill="#b4b4b4" textLength="72" lengthAdjust="spacingAndGlyphs">KDJ_UD</text>
<rect x="1244" y="1284" width="90" height="30" fill="#070707"/>
<text class="mo" x="1259.0" y="1307" font-size="24" fill="#b4b4b4" textLength="60" lengthAdjust="spacingAndGlyphs">MA_UD</text>
<rect x="1336" y="1284" width="114" height="30" fill="#070707"/>
<text class="mo" x="1351.0" y="1307" font-size="24" fill="#b4b4b4" textLength="84" lengthAdjust="spacingAndGlyphs">MACD_UD</text>
<rect x="1452" y="1284" width="102" height="30" fill="#070707"/>
<text class="mo" x="1467.0" y="1307" font-size="24" fill="#b4b4b4" textLength="72" lengthAdjust="spacingAndGlyphs">MTM_UD</text>
<rect x="1556" y="1284" width="150" height="30" fill="#070707"/>
<text class="mo" x="1571.0" y="1307" font-size="24" fill="#b4b4b4" textLength="120" lengthAdjust="spacingAndGlyphs">OUTSIDE_UD</text>
<rect x="1708" y="1284" width="54" height="30" fill="#070707"/>
<text class="mo" x="1723.0" y="1307" font-size="24" fill="#b4b4b4" textLength="24" lengthAdjust="spacingAndGlyphs">&gt;&gt;</text>
<text class="ls" x="1922" y="1288.5" font-size="30" fill="#e4e6ee" textLength="97" lengthAdjust="spacing">FX678</text>
</svg>
</body></html>
